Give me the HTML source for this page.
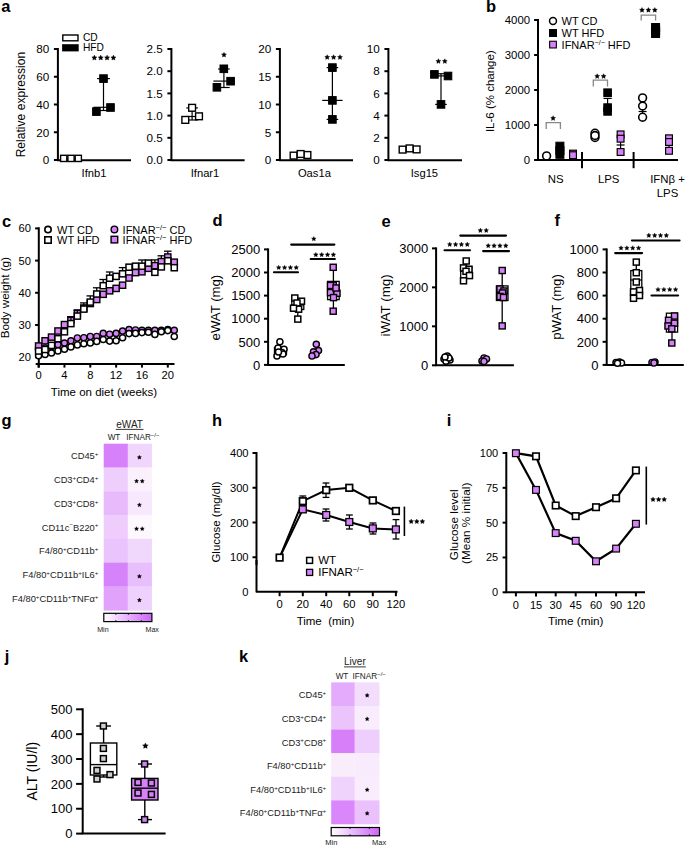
<!DOCTYPE html>
<html><head><meta charset="utf-8"><style>
html,body{margin:0;padding:0;background:#fff;width:685px;height:845px;overflow:hidden}
svg{display:block;font-family:"Liberation Sans", sans-serif}
</style></head><body>
<svg width="685" height="845" viewBox="0 0 685 845">
<rect width="685" height="845" fill="#fff"/>
<text x="1.3" y="11.8" font-size="16.5" text-anchor="start" font-weight="bold" fill="#000" >a</text>
<text x="486.0" y="11.6" font-size="16.5" text-anchor="start" font-weight="bold" fill="#000" >b</text>
<text x="1.9" y="226.6" font-size="16.5" text-anchor="start" font-weight="bold" fill="#000" >c</text>
<text x="212.6" y="226.4" font-size="16.5" text-anchor="start" font-weight="bold" fill="#000" >d</text>
<text x="381.5" y="226.5" font-size="16.5" text-anchor="start" font-weight="bold" fill="#000" >e</text>
<text x="554.5" y="225.8" font-size="16.5" text-anchor="start" font-weight="bold" fill="#000" >f</text>
<text x="1.5" y="425.9" font-size="16.5" text-anchor="start" font-weight="bold" fill="#000" >g</text>
<text x="212.0" y="426.0" font-size="16.5" text-anchor="start" font-weight="bold" fill="#000" >h</text>
<text x="446.8" y="426.0" font-size="16.5" text-anchor="start" font-weight="bold" fill="#000" >i</text>
<text x="4.8" y="661.5" font-size="16.5" text-anchor="start" font-weight="bold" fill="#000" >j</text>
<text x="238.9" y="662.0" font-size="16.5" text-anchor="start" font-weight="bold" fill="#000" >k</text>
<rect x="62.8" y="35" width="15.2" height="5.8" fill="#fff" stroke="#000" stroke-width="1.4"/>
<rect x="62.1" y="44.2" width="16.6" height="7.2" fill="#000"/>
<text x="83.0" y="41.4" font-size="10.2" text-anchor="start" font-weight="normal" fill="#000" >CD</text>
<text x="83.0" y="51.1" font-size="10.2" text-anchor="start" font-weight="normal" fill="#000" >HFD</text>
<text x="0" y="0" font-size="12.1" text-anchor="middle" fill="#000" transform="translate(25.4,104.6) rotate(-90)">Relative expression</text>
<line x1="57.90" y1="48.00" x2="57.90" y2="160.20" stroke="#000" stroke-width="2" stroke-linecap="butt"/>
<line x1="53.90" y1="160.00" x2="57.90" y2="160.00" stroke="#000" stroke-width="2" stroke-linecap="butt"/>
<text x="49.3" y="164.2" font-size="11.7" text-anchor="end" font-weight="normal" fill="#000" >0</text>
<line x1="53.90" y1="132.25" x2="57.90" y2="132.25" stroke="#000" stroke-width="2" stroke-linecap="butt"/>
<text x="49.3" y="136.5" font-size="11.7" text-anchor="end" font-weight="normal" fill="#000" >20</text>
<line x1="53.90" y1="104.50" x2="57.90" y2="104.50" stroke="#000" stroke-width="2" stroke-linecap="butt"/>
<text x="49.3" y="108.7" font-size="11.7" text-anchor="end" font-weight="normal" fill="#000" >40</text>
<line x1="53.90" y1="76.75" x2="57.90" y2="76.75" stroke="#000" stroke-width="2" stroke-linecap="butt"/>
<text x="49.3" y="81.0" font-size="11.7" text-anchor="end" font-weight="normal" fill="#000" >60</text>
<line x1="53.90" y1="49.00" x2="57.90" y2="49.00" stroke="#000" stroke-width="2" stroke-linecap="butt"/>
<text x="49.3" y="53.2" font-size="11.7" text-anchor="end" font-weight="normal" fill="#000" >80</text>
<line x1="56.90" y1="160.20" x2="131.00" y2="160.20" stroke="#000" stroke-width="2" stroke-linecap="butt"/>
<text x="94.0" y="176.6" font-size="11.2" text-anchor="middle" font-weight="normal" fill="#000" >Ifnb1</text>
<line x1="171.40" y1="48.00" x2="171.40" y2="160.20" stroke="#000" stroke-width="2" stroke-linecap="butt"/>
<line x1="167.40" y1="160.00" x2="171.40" y2="160.00" stroke="#000" stroke-width="2" stroke-linecap="butt"/>
<text x="162.8" y="164.2" font-size="11.7" text-anchor="end" font-weight="normal" fill="#000" >0.0</text>
<line x1="167.40" y1="137.80" x2="171.40" y2="137.80" stroke="#000" stroke-width="2" stroke-linecap="butt"/>
<text x="162.8" y="142.0" font-size="11.7" text-anchor="end" font-weight="normal" fill="#000" >0.5</text>
<line x1="167.40" y1="115.60" x2="171.40" y2="115.60" stroke="#000" stroke-width="2" stroke-linecap="butt"/>
<text x="162.8" y="119.8" font-size="11.7" text-anchor="end" font-weight="normal" fill="#000" >1.0</text>
<line x1="167.40" y1="93.40" x2="171.40" y2="93.40" stroke="#000" stroke-width="2" stroke-linecap="butt"/>
<text x="162.8" y="97.6" font-size="11.7" text-anchor="end" font-weight="normal" fill="#000" >1.5</text>
<line x1="167.40" y1="71.20" x2="171.40" y2="71.20" stroke="#000" stroke-width="2" stroke-linecap="butt"/>
<text x="162.8" y="75.4" font-size="11.7" text-anchor="end" font-weight="normal" fill="#000" >2.0</text>
<line x1="167.40" y1="49.00" x2="171.40" y2="49.00" stroke="#000" stroke-width="2" stroke-linecap="butt"/>
<text x="162.8" y="53.2" font-size="11.7" text-anchor="end" font-weight="normal" fill="#000" >2.5</text>
<line x1="170.40" y1="160.20" x2="244.60" y2="160.20" stroke="#000" stroke-width="2" stroke-linecap="butt"/>
<text x="205.0" y="176.6" font-size="11.2" text-anchor="middle" font-weight="normal" fill="#000" >Ifnar1</text>
<line x1="279.90" y1="48.00" x2="279.90" y2="160.20" stroke="#000" stroke-width="2" stroke-linecap="butt"/>
<line x1="275.90" y1="160.00" x2="279.90" y2="160.00" stroke="#000" stroke-width="2" stroke-linecap="butt"/>
<text x="271.3" y="164.2" font-size="11.7" text-anchor="end" font-weight="normal" fill="#000" >0</text>
<line x1="275.90" y1="132.25" x2="279.90" y2="132.25" stroke="#000" stroke-width="2" stroke-linecap="butt"/>
<text x="271.3" y="136.5" font-size="11.7" text-anchor="end" font-weight="normal" fill="#000" >5</text>
<line x1="275.90" y1="104.50" x2="279.90" y2="104.50" stroke="#000" stroke-width="2" stroke-linecap="butt"/>
<text x="271.3" y="108.7" font-size="11.7" text-anchor="end" font-weight="normal" fill="#000" >10</text>
<line x1="275.90" y1="76.75" x2="279.90" y2="76.75" stroke="#000" stroke-width="2" stroke-linecap="butt"/>
<text x="271.3" y="81.0" font-size="11.7" text-anchor="end" font-weight="normal" fill="#000" >15</text>
<line x1="275.90" y1="49.00" x2="279.90" y2="49.00" stroke="#000" stroke-width="2" stroke-linecap="butt"/>
<text x="271.3" y="53.2" font-size="11.7" text-anchor="end" font-weight="normal" fill="#000" >20</text>
<line x1="278.90" y1="160.20" x2="353.00" y2="160.20" stroke="#000" stroke-width="2" stroke-linecap="butt"/>
<text x="314.4" y="176.6" font-size="11.2" text-anchor="middle" font-weight="normal" fill="#000" >Oas1a</text>
<line x1="388.40" y1="48.00" x2="388.40" y2="160.20" stroke="#000" stroke-width="2" stroke-linecap="butt"/>
<line x1="384.40" y1="160.00" x2="388.40" y2="160.00" stroke="#000" stroke-width="2" stroke-linecap="butt"/>
<text x="379.8" y="164.2" font-size="11.7" text-anchor="end" font-weight="normal" fill="#000" >0</text>
<line x1="384.40" y1="137.80" x2="388.40" y2="137.80" stroke="#000" stroke-width="2" stroke-linecap="butt"/>
<text x="379.8" y="142.0" font-size="11.7" text-anchor="end" font-weight="normal" fill="#000" >2</text>
<line x1="384.40" y1="115.60" x2="388.40" y2="115.60" stroke="#000" stroke-width="2" stroke-linecap="butt"/>
<text x="379.8" y="119.8" font-size="11.7" text-anchor="end" font-weight="normal" fill="#000" >4</text>
<line x1="384.40" y1="93.40" x2="388.40" y2="93.40" stroke="#000" stroke-width="2" stroke-linecap="butt"/>
<text x="379.8" y="97.6" font-size="11.7" text-anchor="end" font-weight="normal" fill="#000" >6</text>
<line x1="384.40" y1="71.20" x2="388.40" y2="71.20" stroke="#000" stroke-width="2" stroke-linecap="butt"/>
<text x="379.8" y="75.4" font-size="11.7" text-anchor="end" font-weight="normal" fill="#000" >8</text>
<line x1="384.40" y1="49.00" x2="388.40" y2="49.00" stroke="#000" stroke-width="2" stroke-linecap="butt"/>
<text x="379.8" y="53.2" font-size="11.7" text-anchor="end" font-weight="normal" fill="#000" >10</text>
<line x1="387.40" y1="160.20" x2="462.00" y2="160.20" stroke="#000" stroke-width="2" stroke-linecap="butt"/>
<text x="424.4" y="176.6" font-size="11.2" text-anchor="middle" font-weight="normal" fill="#000" >Isg15</text>
<line x1="103.50" y1="78.60" x2="103.50" y2="110.50" stroke="#000" stroke-width="1.2" stroke-linecap="butt"/>
<line x1="97.10" y1="78.60" x2="109.90" y2="78.60" stroke="#000" stroke-width="1.2" stroke-linecap="butt"/>
<line x1="97.10" y1="110.50" x2="109.90" y2="110.50" stroke="#000" stroke-width="1.2" stroke-linecap="butt"/>
<line x1="93.50" y1="107.30" x2="113.50" y2="107.30" stroke="#000" stroke-width="1.2" stroke-linecap="butt"/>
<rect x="99.70" y="74.80" width="7.60" height="7.60" fill="#000" stroke="#000" stroke-width="1.0"/>
<rect x="92.60" y="107.80" width="7.60" height="7.60" fill="#000" stroke="#000" stroke-width="1.0"/>
<rect x="106.70" y="103.70" width="7.60" height="7.60" fill="#000" stroke="#000" stroke-width="1.0"/>
<line x1="60.50" y1="158.50" x2="81.00" y2="158.50" stroke="#000" stroke-width="1.2" stroke-linecap="butt"/>
<rect x="60.60" y="155.30" width="6.20" height="6.20" fill="#fff" stroke="#000" stroke-width="1.4"/>
<rect x="67.90" y="155.30" width="6.20" height="6.20" fill="#fff" stroke="#000" stroke-width="1.4"/>
<rect x="75.20" y="155.30" width="6.20" height="6.20" fill="#fff" stroke="#000" stroke-width="1.4"/>
<polygon points="94.38,55.10 95.17,56.71 96.94,56.97 95.66,58.22 95.96,59.98 94.38,59.15 92.79,59.98 93.09,58.22 91.81,56.97 93.58,56.71" fill="#000" stroke="#000" stroke-width="0.35" stroke-linejoin="round"/>
<polygon points="100.72,55.10 101.52,56.71 103.29,56.97 102.01,58.22 102.31,59.98 100.72,59.15 99.14,59.98 99.44,58.22 98.16,56.97 99.93,56.71" fill="#000" stroke="#000" stroke-width="0.35" stroke-linejoin="round"/>
<polygon points="107.08,55.10 107.87,56.71 109.64,56.97 108.36,58.22 108.66,59.98 107.08,59.15 105.49,59.98 105.79,58.22 104.51,56.97 106.28,56.71" fill="#000" stroke="#000" stroke-width="0.35" stroke-linejoin="round"/>
<polygon points="113.42,55.10 114.22,56.71 115.99,56.97 114.71,58.22 115.01,59.98 113.42,59.15 111.84,59.98 112.14,58.22 110.86,56.97 112.63,56.71" fill="#000" stroke="#000" stroke-width="0.35" stroke-linejoin="round"/>
<line x1="223.90" y1="69.00" x2="223.90" y2="87.50" stroke="#000" stroke-width="1.2" stroke-linecap="butt"/>
<line x1="218.10" y1="69.00" x2="229.70" y2="69.00" stroke="#000" stroke-width="1.2" stroke-linecap="butt"/>
<line x1="218.10" y1="87.50" x2="229.70" y2="87.50" stroke="#000" stroke-width="1.2" stroke-linecap="butt"/>
<line x1="213.40" y1="81.10" x2="234.40" y2="81.10" stroke="#000" stroke-width="1.2" stroke-linecap="butt"/>
<rect x="220.00" y="65.00" width="7.60" height="7.60" fill="#000" stroke="#000" stroke-width="1.0"/>
<rect x="226.80" y="77.40" width="7.60" height="7.60" fill="#000" stroke="#000" stroke-width="1.0"/>
<rect x="213.10" y="83.50" width="7.60" height="7.60" fill="#000" stroke="#000" stroke-width="1.0"/>
<line x1="192.10" y1="107.90" x2="192.10" y2="120.00" stroke="#000" stroke-width="1.2" stroke-linecap="butt"/>
<line x1="186.30" y1="107.90" x2="197.90" y2="107.90" stroke="#000" stroke-width="1.2" stroke-linecap="butt"/>
<line x1="186.30" y1="120.00" x2="197.90" y2="120.00" stroke="#000" stroke-width="1.2" stroke-linecap="butt"/>
<line x1="186.10" y1="116.50" x2="198.10" y2="116.50" stroke="#000" stroke-width="1.2" stroke-linecap="butt"/>
<rect x="188.70" y="104.40" width="6.80" height="6.80" fill="#fff" stroke="#000" stroke-width="1.4"/>
<rect x="195.60" y="112.90" width="6.80" height="6.80" fill="#fff" stroke="#000" stroke-width="1.4"/>
<rect x="181.90" y="116.50" width="6.80" height="6.80" fill="#fff" stroke="#000" stroke-width="1.4"/>
<polygon points="224.00,52.30 224.76,53.85 226.47,54.10 225.24,55.30 225.53,57.00 224.00,56.20 222.47,57.00 222.76,55.30 221.53,54.10 223.24,53.85" fill="#000" stroke="#000" stroke-width="0.35" stroke-linejoin="round"/>
<line x1="332.40" y1="67.60" x2="332.40" y2="119.40" stroke="#000" stroke-width="1.2" stroke-linecap="butt"/>
<line x1="326.60" y1="67.60" x2="338.20" y2="67.60" stroke="#000" stroke-width="1.2" stroke-linecap="butt"/>
<line x1="326.60" y1="119.40" x2="338.20" y2="119.40" stroke="#000" stroke-width="1.2" stroke-linecap="butt"/>
<line x1="322.20" y1="100.40" x2="342.60" y2="100.40" stroke="#000" stroke-width="1.2" stroke-linecap="butt"/>
<rect x="328.60" y="63.80" width="7.60" height="7.60" fill="#000" stroke="#000" stroke-width="1.0"/>
<rect x="328.60" y="96.60" width="7.60" height="7.60" fill="#000" stroke="#000" stroke-width="1.0"/>
<rect x="328.60" y="115.60" width="7.60" height="7.60" fill="#000" stroke="#000" stroke-width="1.0"/>
<line x1="300.60" y1="154.00" x2="300.60" y2="155.60" stroke="#000" stroke-width="1.2" stroke-linecap="butt"/>
<line x1="296.60" y1="154.00" x2="304.60" y2="154.00" stroke="#000" stroke-width="1.2" stroke-linecap="butt"/>
<line x1="296.60" y1="155.60" x2="304.60" y2="155.60" stroke="#000" stroke-width="1.2" stroke-linecap="butt"/>
<line x1="294.60" y1="155.00" x2="306.60" y2="155.00" stroke="#000" stroke-width="1.2" stroke-linecap="butt"/>
<rect x="290.20" y="152.20" width="6.80" height="6.80" fill="#fff" stroke="#000" stroke-width="1.4"/>
<rect x="304.00" y="151.60" width="6.80" height="6.80" fill="#fff" stroke="#000" stroke-width="1.4"/>
<rect x="297.20" y="150.60" width="6.80" height="6.80" fill="#fff" stroke="#000" stroke-width="1.4"/>
<polygon points="327.20,54.70 327.96,56.25 329.67,56.50 328.44,57.70 328.73,59.40 327.20,58.60 325.67,59.40 325.96,57.70 324.73,56.50 326.44,56.25" fill="#000" stroke="#000" stroke-width="0.35" stroke-linejoin="round"/>
<polygon points="333.60,54.70 334.36,56.25 336.07,56.50 334.84,57.70 335.13,59.40 333.60,58.60 332.07,59.40 332.36,57.70 331.13,56.50 332.84,56.25" fill="#000" stroke="#000" stroke-width="0.35" stroke-linejoin="round"/>
<polygon points="340.00,54.70 340.76,56.25 342.47,56.50 341.24,57.70 341.53,59.40 340.00,58.60 338.47,59.40 338.76,57.70 337.53,56.50 339.24,56.25" fill="#000" stroke="#000" stroke-width="0.35" stroke-linejoin="round"/>
<line x1="441.00" y1="73.70" x2="441.00" y2="104.40" stroke="#000" stroke-width="1.2" stroke-linecap="butt"/>
<line x1="435.20" y1="73.70" x2="446.80" y2="73.70" stroke="#000" stroke-width="1.2" stroke-linecap="butt"/>
<line x1="435.20" y1="104.40" x2="446.80" y2="104.40" stroke="#000" stroke-width="1.2" stroke-linecap="butt"/>
<line x1="434.00" y1="75.90" x2="448.00" y2="75.90" stroke="#000" stroke-width="1.2" stroke-linecap="butt"/>
<rect x="430.60" y="70.60" width="7.60" height="7.60" fill="#000" stroke="#000" stroke-width="1.0"/>
<rect x="444.20" y="72.20" width="7.60" height="7.60" fill="#000" stroke="#000" stroke-width="1.0"/>
<rect x="437.20" y="100.60" width="7.60" height="7.60" fill="#000" stroke="#000" stroke-width="1.0"/>
<rect x="399.20" y="146.20" width="6.80" height="6.80" fill="#fff" stroke="#000" stroke-width="1.4"/>
<rect x="413.20" y="146.00" width="6.80" height="6.80" fill="#fff" stroke="#000" stroke-width="1.4"/>
<rect x="406.20" y="145.00" width="6.80" height="6.80" fill="#fff" stroke="#000" stroke-width="1.4"/>
<polygon points="438.40,58.70 439.16,60.25 440.87,60.50 439.64,61.70 439.93,63.40 438.40,62.60 436.87,63.40 437.16,61.70 435.93,60.50 437.64,60.25" fill="#000" stroke="#000" stroke-width="0.35" stroke-linejoin="round"/>
<polygon points="444.80,58.70 445.56,60.25 447.27,60.50 446.04,61.70 446.33,63.40 444.80,62.60 443.27,63.40 443.56,61.70 442.33,60.50 444.04,60.25" fill="#000" stroke="#000" stroke-width="0.35" stroke-linejoin="round"/>
<text x="0" y="0" font-size="11.5" text-anchor="middle" fill="#000" transform="translate(494.2,91.2) rotate(-90)">IL-6 (% change)</text>
<line x1="538.00" y1="19.00" x2="538.00" y2="160.00" stroke="#000" stroke-width="2" stroke-linecap="butt"/>
<line x1="534.10" y1="160.00" x2="538.00" y2="160.00" stroke="#000" stroke-width="2" stroke-linecap="butt"/>
<text x="530.1" y="164.1" font-size="11.4" text-anchor="end" font-weight="normal" fill="#000" >0</text>
<line x1="534.10" y1="125.00" x2="538.00" y2="125.00" stroke="#000" stroke-width="2" stroke-linecap="butt"/>
<text x="530.1" y="129.1" font-size="11.4" text-anchor="end" font-weight="normal" fill="#000" >1000</text>
<line x1="534.10" y1="90.00" x2="538.00" y2="90.00" stroke="#000" stroke-width="2" stroke-linecap="butt"/>
<text x="530.1" y="94.1" font-size="11.4" text-anchor="end" font-weight="normal" fill="#000" >2000</text>
<line x1="534.10" y1="55.00" x2="538.00" y2="55.00" stroke="#000" stroke-width="2" stroke-linecap="butt"/>
<text x="530.1" y="59.1" font-size="11.4" text-anchor="end" font-weight="normal" fill="#000" >3000</text>
<line x1="534.10" y1="20.00" x2="538.00" y2="20.00" stroke="#000" stroke-width="2" stroke-linecap="butt"/>
<text x="530.1" y="24.1" font-size="11.4" text-anchor="end" font-weight="normal" fill="#000" >4000</text>
<line x1="537.00" y1="160.00" x2="678.00" y2="160.00" stroke="#000" stroke-width="2" stroke-linecap="butt"/>
<line x1="582.00" y1="152.00" x2="582.00" y2="168.20" stroke="#000" stroke-width="2" stroke-linecap="butt"/>
<line x1="633.60" y1="152.00" x2="633.60" y2="168.20" stroke="#000" stroke-width="2" stroke-linecap="butt"/>
<text x="555.7" y="183.2" font-size="11.4" text-anchor="middle" font-weight="normal" fill="#000" >NS</text>
<text x="608.7" y="183.2" font-size="11.4" text-anchor="middle" font-weight="normal" fill="#000" >LPS</text>
<text x="667.5" y="183.2" font-size="11.4" text-anchor="middle" font-weight="normal" fill="#000" >IFNβ +</text>
<text x="667.5" y="197.4" font-size="11.4" text-anchor="middle" font-weight="normal" fill="#000" >LPS</text>
<circle cx="553.00" cy="21.00" r="3.45" fill="#fff" stroke="#000" stroke-width="1.5"/>
<text x="561.6" y="24.8" font-size="11" text-anchor="start" font-weight="normal" fill="#000" >WT CD</text>
<rect x="549.50" y="29.50" width="7.00" height="7.00" fill="#000" stroke="#000" stroke-width="1"/>
<text x="561.6" y="37.0" font-size="11" text-anchor="start" font-weight="normal" fill="#000" >WT HFD</text>
<rect x="549.65" y="41.25" width="6.70" height="6.70" fill="#d882f9" stroke="#000" stroke-width="1.1"/>
<text x="561.6" y="49.2" font-size="11" text-anchor="start" font-weight="normal" fill="#000" >IFNAR<tspan dy="-4" font-size="7">−/−</tspan><tspan dy="4"> HFD</tspan></text>
<polyline points="546.20,129.00 546.20,122.60 560.40,122.60 560.40,129.00" stroke="#888" stroke-width="1.3" fill="none" stroke-linejoin="miter"/>
<polygon points="553.10,115.70 553.86,117.25 555.57,117.50 554.34,118.70 554.63,120.40 553.10,119.60 551.57,120.40 551.86,118.70 550.63,117.50 552.34,117.25" fill="#000" stroke="#000" stroke-width="0.35" stroke-linejoin="round"/>
<polyline points="593.30,86.50 593.30,80.20 607.50,80.20 607.50,86.50" stroke="#888" stroke-width="1.3" fill="none" stroke-linejoin="miter"/>
<polygon points="597.20,73.70 597.96,75.25 599.67,75.50 598.44,76.70 598.73,78.40 597.20,77.60 595.67,78.40 595.96,76.70 594.73,75.50 596.44,75.25" fill="#000" stroke="#000" stroke-width="0.35" stroke-linejoin="round"/>
<polygon points="603.60,73.70 604.36,75.25 606.07,75.50 604.84,76.70 605.13,78.40 603.60,77.60 602.07,78.40 602.36,76.70 601.13,75.50 602.84,75.25" fill="#000" stroke="#000" stroke-width="0.35" stroke-linejoin="round"/>
<polyline points="641.20,20.50 641.20,15.20 655.60,15.20 655.60,20.50" stroke="#888" stroke-width="1.3" fill="none" stroke-linejoin="miter"/>
<polygon points="642.00,7.50 642.76,9.05 644.47,9.30 643.24,10.50 643.53,12.20 642.00,11.40 640.47,12.20 640.76,10.50 639.53,9.30 641.24,9.05" fill="#000" stroke="#000" stroke-width="0.35" stroke-linejoin="round"/>
<polygon points="648.40,7.50 649.16,9.05 650.87,9.30 649.64,10.50 649.93,12.20 648.40,11.40 646.87,12.20 647.16,10.50 645.93,9.30 647.64,9.05" fill="#000" stroke="#000" stroke-width="0.35" stroke-linejoin="round"/>
<polygon points="654.80,7.50 655.56,9.05 657.27,9.30 656.04,10.50 656.33,12.20 654.80,11.40 653.27,12.20 653.56,10.50 652.33,9.30 654.04,9.05" fill="#000" stroke="#000" stroke-width="0.35" stroke-linejoin="round"/>
<circle cx="546.60" cy="155.90" r="3.90" fill="#fff" stroke="#000" stroke-width="1.6"/>
<rect x="555.90" y="142.20" width="8.00" height="8.00" fill="#000" stroke="#000" stroke-width="1"/>
<rect x="555.90" y="146.50" width="8.00" height="8.00" fill="#000" stroke="#000" stroke-width="1"/>
<rect x="555.90" y="150.30" width="8.00" height="8.00" fill="#000" stroke="#000" stroke-width="1"/>
<rect x="569.60" y="150.20" width="6.80" height="6.80" fill="#d882f9" stroke="#000" stroke-width="1.2"/>
<rect x="569.60" y="151.80" width="6.80" height="6.80" fill="#d882f9" stroke="#000" stroke-width="1.2"/>
<line x1="607.60" y1="98.40" x2="607.60" y2="108.00" stroke="#000" stroke-width="1.2" stroke-linecap="butt"/>
<line x1="603.50" y1="98.40" x2="611.70" y2="98.40" stroke="#000" stroke-width="1.2" stroke-linecap="butt"/>
<rect x="603.80" y="88.90" width="7.60" height="7.60" fill="#000" stroke="#000" stroke-width="1"/>
<rect x="603.80" y="103.80" width="7.60" height="7.60" fill="#000" stroke="#000" stroke-width="1"/>
<rect x="603.80" y="107.60" width="7.60" height="7.60" fill="#000" stroke="#000" stroke-width="1"/>
<circle cx="595.00" cy="137.50" r="3.90" fill="#fff" stroke="#000" stroke-width="1.6"/>
<circle cx="595.00" cy="133.20" r="3.90" fill="#fff" stroke="#000" stroke-width="1.6"/>
<circle cx="595.00" cy="135.50" r="3.90" fill="#fff" stroke="#000" stroke-width="1.6"/>
<line x1="620.60" y1="138.00" x2="620.60" y2="152.00" stroke="#000" stroke-width="1.2" stroke-linecap="butt"/>
<line x1="616.60" y1="145.00" x2="624.60" y2="145.00" stroke="#000" stroke-width="1.2" stroke-linecap="butt"/>
<rect x="617.20" y="131.00" width="6.80" height="6.80" fill="#d882f9" stroke="#000" stroke-width="1.2"/>
<rect x="617.20" y="135.30" width="6.80" height="6.80" fill="#d882f9" stroke="#000" stroke-width="1.2"/>
<rect x="617.20" y="148.60" width="6.80" height="6.80" fill="#d882f9" stroke="#000" stroke-width="1.2"/>
<line x1="642.60" y1="106.00" x2="642.60" y2="117.00" stroke="#000" stroke-width="1.2" stroke-linecap="butt"/>
<line x1="638.60" y1="111.50" x2="646.60" y2="111.50" stroke="#000" stroke-width="1.2" stroke-linecap="butt"/>
<circle cx="642.60" cy="97.90" r="3.90" fill="#fff" stroke="#000" stroke-width="1.6"/>
<circle cx="642.60" cy="106.00" r="3.90" fill="#fff" stroke="#000" stroke-width="1.6"/>
<circle cx="642.60" cy="117.20" r="3.90" fill="#fff" stroke="#000" stroke-width="1.6"/>
<rect x="651.60" y="23.50" width="8.00" height="8.00" fill="#000" stroke="#000" stroke-width="1"/>
<rect x="651.60" y="26.50" width="8.00" height="8.00" fill="#000" stroke="#000" stroke-width="1"/>
<rect x="651.60" y="29.50" width="8.00" height="8.00" fill="#000" stroke="#000" stroke-width="1"/>
<line x1="669.00" y1="140.00" x2="669.00" y2="151.00" stroke="#000" stroke-width="1.2" stroke-linecap="butt"/>
<rect x="665.60" y="134.90" width="6.80" height="6.80" fill="#d882f9" stroke="#000" stroke-width="1.2"/>
<rect x="665.60" y="138.60" width="6.80" height="6.80" fill="#d882f9" stroke="#000" stroke-width="1.2"/>
<rect x="665.60" y="147.40" width="6.80" height="6.80" fill="#d882f9" stroke="#000" stroke-width="1.2"/>
<line x1="38.80" y1="227.30" x2="38.80" y2="367.60" stroke="#000" stroke-width="2" stroke-linecap="butt"/>
<line x1="35.10" y1="357.20" x2="38.80" y2="357.20" stroke="#000" stroke-width="2" stroke-linecap="butt"/>
<text x="31.0" y="361.2" font-size="11.2" text-anchor="end" font-weight="normal" fill="#000" >20</text>
<line x1="35.10" y1="325.00" x2="38.80" y2="325.00" stroke="#000" stroke-width="2" stroke-linecap="butt"/>
<text x="31.0" y="329.0" font-size="11.2" text-anchor="end" font-weight="normal" fill="#000" >30</text>
<line x1="35.10" y1="292.80" x2="38.80" y2="292.80" stroke="#000" stroke-width="2" stroke-linecap="butt"/>
<text x="31.0" y="296.8" font-size="11.2" text-anchor="end" font-weight="normal" fill="#000" >40</text>
<line x1="35.10" y1="260.60" x2="38.80" y2="260.60" stroke="#000" stroke-width="2" stroke-linecap="butt"/>
<text x="31.0" y="264.6" font-size="11.2" text-anchor="end" font-weight="normal" fill="#000" >50</text>
<line x1="35.10" y1="228.40" x2="38.80" y2="228.40" stroke="#000" stroke-width="2" stroke-linecap="butt"/>
<text x="31.0" y="232.4" font-size="11.2" text-anchor="end" font-weight="normal" fill="#000" >60</text>
<line x1="35.70" y1="363.90" x2="174.50" y2="363.90" stroke="#000" stroke-width="2" stroke-linecap="butt"/>
<line x1="38.60" y1="363.90" x2="38.60" y2="367.60" stroke="#000" stroke-width="2" stroke-linecap="butt"/>
<text x="38.6" y="379.4" font-size="11.2" text-anchor="middle" font-weight="normal" fill="#000" >0</text>
<line x1="64.44" y1="363.90" x2="64.44" y2="367.60" stroke="#000" stroke-width="2" stroke-linecap="butt"/>
<text x="64.4" y="379.4" font-size="11.2" text-anchor="middle" font-weight="normal" fill="#000" >4</text>
<line x1="90.28" y1="363.90" x2="90.28" y2="367.60" stroke="#000" stroke-width="2" stroke-linecap="butt"/>
<text x="90.3" y="379.4" font-size="11.2" text-anchor="middle" font-weight="normal" fill="#000" >8</text>
<line x1="116.12" y1="363.90" x2="116.12" y2="367.60" stroke="#000" stroke-width="2" stroke-linecap="butt"/>
<text x="116.1" y="379.4" font-size="11.2" text-anchor="middle" font-weight="normal" fill="#000" >12</text>
<line x1="141.96" y1="363.90" x2="141.96" y2="367.60" stroke="#000" stroke-width="2" stroke-linecap="butt"/>
<text x="142.0" y="379.4" font-size="11.2" text-anchor="middle" font-weight="normal" fill="#000" >16</text>
<line x1="167.80" y1="363.90" x2="167.80" y2="367.60" stroke="#000" stroke-width="2" stroke-linecap="butt"/>
<text x="167.8" y="379.4" font-size="11.2" text-anchor="middle" font-weight="normal" fill="#000" >20</text>
<text x="104.0" y="396.0" font-size="11.5" text-anchor="middle" font-weight="normal" fill="#000" >Time on diet (weeks)</text>
<text x="0" y="0" font-size="11.7" text-anchor="middle" fill="#000" transform="translate(8.7,297.6) rotate(-90)">Body weight (g)</text>
<circle cx="48.00" cy="229.60" r="3.20" fill="#fff" stroke="#000" stroke-width="1.6"/>
<text x="57.0" y="233.6" font-size="11" text-anchor="start" font-weight="normal" fill="#000" >WT CD</text>
<rect x="44.80" y="236.80" width="6.40" height="6.40" fill="#fff" stroke="#000" stroke-width="1.6"/>
<text x="57.0" y="244.0" font-size="11" text-anchor="start" font-weight="normal" fill="#000" >WT HFD</text>
<circle cx="114.40" cy="229.40" r="3.30" fill="#d882f9" stroke="#000" stroke-width="1.4"/>
<text x="122.6" y="233.6" font-size="11" text-anchor="start" font-weight="normal" fill="#000" >IFNAR<tspan dy="-4" font-size="7.5">−/−</tspan><tspan dy="4"> CD</tspan></text>
<rect x="111.10" y="236.30" width="6.60" height="6.60" fill="#d882f9" stroke="#000" stroke-width="1.4"/>
<text x="122.6" y="244.0" font-size="11" text-anchor="start" font-weight="normal" fill="#000" >IFNAR<tspan dy="-4" font-size="7.5">−/−</tspan><tspan dy="4"> HFD</tspan></text>
<circle cx="38.60" cy="349.80" r="3.10" fill="#d882f9" stroke="#000" stroke-width="1.4"/>
<circle cx="45.06" cy="348.00" r="3.10" fill="#d882f9" stroke="#000" stroke-width="1.4"/>
<circle cx="51.52" cy="346.50" r="3.10" fill="#d882f9" stroke="#000" stroke-width="1.4"/>
<circle cx="57.98" cy="344.70" r="3.10" fill="#d882f9" stroke="#000" stroke-width="1.4"/>
<circle cx="64.44" cy="343.10" r="3.10" fill="#d882f9" stroke="#000" stroke-width="1.4"/>
<circle cx="70.90" cy="340.80" r="3.10" fill="#d882f9" stroke="#000" stroke-width="1.4"/>
<circle cx="77.36" cy="338.00" r="3.10" fill="#d882f9" stroke="#000" stroke-width="1.4"/>
<circle cx="83.82" cy="337.70" r="3.10" fill="#d882f9" stroke="#000" stroke-width="1.4"/>
<circle cx="90.28" cy="336.50" r="3.10" fill="#d882f9" stroke="#000" stroke-width="1.4"/>
<circle cx="96.74" cy="336.50" r="3.10" fill="#d882f9" stroke="#000" stroke-width="1.4"/>
<circle cx="103.20" cy="333.40" r="3.10" fill="#d882f9" stroke="#000" stroke-width="1.4"/>
<circle cx="109.66" cy="334.20" r="3.10" fill="#d882f9" stroke="#000" stroke-width="1.4"/>
<circle cx="116.12" cy="333.40" r="3.10" fill="#d882f9" stroke="#000" stroke-width="1.4"/>
<circle cx="122.58" cy="331.10" r="3.10" fill="#d882f9" stroke="#000" stroke-width="1.4"/>
<circle cx="129.04" cy="329.60" r="3.10" fill="#d882f9" stroke="#000" stroke-width="1.4"/>
<circle cx="135.50" cy="330.00" r="3.10" fill="#d882f9" stroke="#000" stroke-width="1.4"/>
<circle cx="141.96" cy="330.30" r="3.10" fill="#d882f9" stroke="#000" stroke-width="1.4"/>
<circle cx="148.42" cy="330.30" r="3.10" fill="#d882f9" stroke="#000" stroke-width="1.4"/>
<circle cx="154.88" cy="330.30" r="3.10" fill="#d882f9" stroke="#000" stroke-width="1.4"/>
<circle cx="161.34" cy="330.30" r="3.10" fill="#d882f9" stroke="#000" stroke-width="1.4"/>
<circle cx="167.80" cy="329.60" r="3.10" fill="#d882f9" stroke="#000" stroke-width="1.4"/>
<circle cx="174.26" cy="330.30" r="3.10" fill="#d882f9" stroke="#000" stroke-width="1.4"/>
<rect x="35.50" y="342.90" width="6.20" height="6.20" fill="#d882f9" stroke="#000" stroke-width="1.4"/>
<rect x="41.96" y="337.70" width="6.20" height="6.20" fill="#d882f9" stroke="#000" stroke-width="1.4"/>
<rect x="48.42" y="334.00" width="6.20" height="6.20" fill="#d882f9" stroke="#000" stroke-width="1.4"/>
<rect x="54.88" y="327.90" width="6.20" height="6.20" fill="#d882f9" stroke="#000" stroke-width="1.4"/>
<rect x="61.34" y="321.50" width="6.20" height="6.20" fill="#d882f9" stroke="#000" stroke-width="1.4"/>
<rect x="67.80" y="316.70" width="6.20" height="6.20" fill="#d882f9" stroke="#000" stroke-width="1.4"/>
<rect x="74.26" y="310.40" width="6.20" height="6.20" fill="#d882f9" stroke="#000" stroke-width="1.4"/>
<rect x="80.72" y="304.90" width="6.20" height="6.20" fill="#d882f9" stroke="#000" stroke-width="1.4"/>
<rect x="87.18" y="300.40" width="6.20" height="6.20" fill="#d882f9" stroke="#000" stroke-width="1.4"/>
<rect x="93.64" y="296.40" width="6.20" height="6.20" fill="#d882f9" stroke="#000" stroke-width="1.4"/>
<rect x="100.10" y="291.20" width="6.20" height="6.20" fill="#d882f9" stroke="#000" stroke-width="1.4"/>
<rect x="106.56" y="287.70" width="6.20" height="6.20" fill="#d882f9" stroke="#000" stroke-width="1.4"/>
<rect x="113.02" y="285.30" width="6.20" height="6.20" fill="#d882f9" stroke="#000" stroke-width="1.4"/>
<rect x="119.48" y="282.10" width="6.20" height="6.20" fill="#d882f9" stroke="#000" stroke-width="1.4"/>
<rect x="125.94" y="274.90" width="6.20" height="6.20" fill="#d882f9" stroke="#000" stroke-width="1.4"/>
<rect x="132.40" y="269.50" width="6.20" height="6.20" fill="#d882f9" stroke="#000" stroke-width="1.4"/>
<line x1="138.16" y1="266.00" x2="145.76" y2="266.00" stroke="#000" stroke-width="1.3" stroke-linecap="butt"/>
<line x1="141.96" y1="266.00" x2="141.96" y2="271.80" stroke="#000" stroke-width="1.3" stroke-linecap="butt"/>
<rect x="138.86" y="268.70" width="6.20" height="6.20" fill="#d882f9" stroke="#000" stroke-width="1.4"/>
<line x1="144.62" y1="262.50" x2="152.22" y2="262.50" stroke="#000" stroke-width="1.3" stroke-linecap="butt"/>
<line x1="148.42" y1="262.50" x2="148.42" y2="268.30" stroke="#000" stroke-width="1.3" stroke-linecap="butt"/>
<rect x="145.32" y="265.20" width="6.20" height="6.20" fill="#d882f9" stroke="#000" stroke-width="1.4"/>
<line x1="151.08" y1="259.90" x2="158.68" y2="259.90" stroke="#000" stroke-width="1.3" stroke-linecap="butt"/>
<line x1="154.88" y1="259.90" x2="154.88" y2="265.70" stroke="#000" stroke-width="1.3" stroke-linecap="butt"/>
<rect x="151.78" y="262.60" width="6.20" height="6.20" fill="#d882f9" stroke="#000" stroke-width="1.4"/>
<line x1="157.54" y1="255.80" x2="165.14" y2="255.80" stroke="#000" stroke-width="1.3" stroke-linecap="butt"/>
<line x1="161.34" y1="255.80" x2="161.34" y2="261.60" stroke="#000" stroke-width="1.3" stroke-linecap="butt"/>
<rect x="158.24" y="258.50" width="6.20" height="6.20" fill="#d882f9" stroke="#000" stroke-width="1.4"/>
<line x1="164.00" y1="251.20" x2="171.60" y2="251.20" stroke="#000" stroke-width="1.3" stroke-linecap="butt"/>
<line x1="167.80" y1="251.20" x2="167.80" y2="257.00" stroke="#000" stroke-width="1.3" stroke-linecap="butt"/>
<rect x="164.70" y="253.90" width="6.20" height="6.20" fill="#d882f9" stroke="#000" stroke-width="1.4"/>
<rect x="171.16" y="259.10" width="6.20" height="6.20" fill="#d882f9" stroke="#000" stroke-width="1.4"/>
<circle cx="38.60" cy="355.70" r="3.05" fill="#fff" stroke="#000" stroke-width="1.5"/>
<circle cx="45.06" cy="354.50" r="3.05" fill="#fff" stroke="#000" stroke-width="1.5"/>
<circle cx="51.52" cy="353.00" r="3.05" fill="#fff" stroke="#000" stroke-width="1.5"/>
<circle cx="57.98" cy="350.90" r="3.05" fill="#fff" stroke="#000" stroke-width="1.5"/>
<circle cx="64.44" cy="349.20" r="3.05" fill="#fff" stroke="#000" stroke-width="1.5"/>
<circle cx="70.90" cy="346.90" r="3.05" fill="#fff" stroke="#000" stroke-width="1.5"/>
<circle cx="77.36" cy="344.90" r="3.05" fill="#fff" stroke="#000" stroke-width="1.5"/>
<circle cx="83.82" cy="343.80" r="3.05" fill="#fff" stroke="#000" stroke-width="1.5"/>
<circle cx="90.28" cy="342.90" r="3.05" fill="#fff" stroke="#000" stroke-width="1.5"/>
<circle cx="96.74" cy="341.40" r="3.05" fill="#fff" stroke="#000" stroke-width="1.5"/>
<circle cx="103.20" cy="339.50" r="3.05" fill="#fff" stroke="#000" stroke-width="1.5"/>
<circle cx="109.66" cy="341.10" r="3.05" fill="#fff" stroke="#000" stroke-width="1.5"/>
<circle cx="116.12" cy="340.80" r="3.05" fill="#fff" stroke="#000" stroke-width="1.5"/>
<circle cx="122.58" cy="337.70" r="3.05" fill="#fff" stroke="#000" stroke-width="1.5"/>
<circle cx="129.04" cy="333.60" r="3.05" fill="#fff" stroke="#000" stroke-width="1.5"/>
<circle cx="135.50" cy="333.40" r="3.05" fill="#fff" stroke="#000" stroke-width="1.5"/>
<circle cx="141.96" cy="332.60" r="3.05" fill="#fff" stroke="#000" stroke-width="1.5"/>
<circle cx="148.42" cy="332.20" r="3.05" fill="#fff" stroke="#000" stroke-width="1.5"/>
<circle cx="154.88" cy="334.40" r="3.05" fill="#fff" stroke="#000" stroke-width="1.5"/>
<circle cx="161.34" cy="331.80" r="3.05" fill="#fff" stroke="#000" stroke-width="1.5"/>
<circle cx="167.80" cy="330.60" r="3.05" fill="#fff" stroke="#000" stroke-width="1.5"/>
<circle cx="174.26" cy="336.50" r="3.05" fill="#fff" stroke="#000" stroke-width="1.5"/>
<rect x="35.55" y="347.95" width="6.10" height="6.10" fill="#fff" stroke="#000" stroke-width="1.5"/>
<rect x="42.01" y="346.45" width="6.10" height="6.10" fill="#fff" stroke="#000" stroke-width="1.5"/>
<rect x="48.47" y="342.35" width="6.10" height="6.10" fill="#fff" stroke="#000" stroke-width="1.5"/>
<rect x="54.93" y="335.65" width="6.10" height="6.10" fill="#fff" stroke="#000" stroke-width="1.5"/>
<rect x="61.39" y="328.75" width="6.10" height="6.10" fill="#fff" stroke="#000" stroke-width="1.5"/>
<line x1="67.10" y1="317.40" x2="74.70" y2="317.40" stroke="#000" stroke-width="1.3" stroke-linecap="butt"/>
<line x1="70.90" y1="317.40" x2="70.90" y2="323.60" stroke="#000" stroke-width="1.3" stroke-linecap="butt"/>
<rect x="67.85" y="320.55" width="6.10" height="6.10" fill="#fff" stroke="#000" stroke-width="1.5"/>
<line x1="73.56" y1="309.90" x2="81.16" y2="309.90" stroke="#000" stroke-width="1.3" stroke-linecap="butt"/>
<line x1="77.36" y1="309.90" x2="77.36" y2="316.10" stroke="#000" stroke-width="1.3" stroke-linecap="butt"/>
<rect x="74.31" y="313.05" width="6.10" height="6.10" fill="#fff" stroke="#000" stroke-width="1.5"/>
<line x1="80.02" y1="302.90" x2="87.62" y2="302.90" stroke="#000" stroke-width="1.3" stroke-linecap="butt"/>
<line x1="83.82" y1="302.90" x2="83.82" y2="309.10" stroke="#000" stroke-width="1.3" stroke-linecap="butt"/>
<rect x="80.77" y="306.05" width="6.10" height="6.10" fill="#fff" stroke="#000" stroke-width="1.5"/>
<line x1="86.48" y1="295.90" x2="94.08" y2="295.90" stroke="#000" stroke-width="1.3" stroke-linecap="butt"/>
<line x1="90.28" y1="295.90" x2="90.28" y2="302.10" stroke="#000" stroke-width="1.3" stroke-linecap="butt"/>
<rect x="87.23" y="299.05" width="6.10" height="6.10" fill="#fff" stroke="#000" stroke-width="1.5"/>
<line x1="92.94" y1="287.80" x2="100.54" y2="287.80" stroke="#000" stroke-width="1.3" stroke-linecap="butt"/>
<line x1="96.74" y1="287.80" x2="96.74" y2="294.00" stroke="#000" stroke-width="1.3" stroke-linecap="butt"/>
<rect x="93.69" y="290.95" width="6.10" height="6.10" fill="#fff" stroke="#000" stroke-width="1.5"/>
<line x1="99.40" y1="279.50" x2="107.00" y2="279.50" stroke="#000" stroke-width="1.3" stroke-linecap="butt"/>
<line x1="103.20" y1="279.50" x2="103.20" y2="285.70" stroke="#000" stroke-width="1.3" stroke-linecap="butt"/>
<rect x="100.15" y="282.65" width="6.10" height="6.10" fill="#fff" stroke="#000" stroke-width="1.5"/>
<line x1="105.86" y1="272.00" x2="113.46" y2="272.00" stroke="#000" stroke-width="1.3" stroke-linecap="butt"/>
<line x1="109.66" y1="272.00" x2="109.66" y2="278.20" stroke="#000" stroke-width="1.3" stroke-linecap="butt"/>
<rect x="106.61" y="275.15" width="6.10" height="6.10" fill="#fff" stroke="#000" stroke-width="1.5"/>
<rect x="113.07" y="273.35" width="6.10" height="6.10" fill="#fff" stroke="#000" stroke-width="1.5"/>
<line x1="118.78" y1="267.60" x2="126.38" y2="267.60" stroke="#000" stroke-width="1.3" stroke-linecap="butt"/>
<line x1="122.58" y1="267.60" x2="122.58" y2="273.80" stroke="#000" stroke-width="1.3" stroke-linecap="butt"/>
<rect x="119.53" y="270.75" width="6.10" height="6.10" fill="#fff" stroke="#000" stroke-width="1.5"/>
<rect x="125.99" y="264.15" width="6.10" height="6.10" fill="#fff" stroke="#000" stroke-width="1.5"/>
<rect x="132.45" y="263.15" width="6.10" height="6.10" fill="#fff" stroke="#000" stroke-width="1.5"/>
<line x1="138.16" y1="260.00" x2="145.76" y2="260.00" stroke="#000" stroke-width="1.3" stroke-linecap="butt"/>
<line x1="141.96" y1="260.00" x2="141.96" y2="266.20" stroke="#000" stroke-width="1.3" stroke-linecap="butt"/>
<rect x="138.91" y="263.15" width="6.10" height="6.10" fill="#fff" stroke="#000" stroke-width="1.5"/>
<rect x="145.37" y="260.05" width="6.10" height="6.10" fill="#fff" stroke="#000" stroke-width="1.5"/>
<rect x="151.83" y="269.25" width="6.10" height="6.10" fill="#fff" stroke="#000" stroke-width="1.5"/>
<rect x="158.29" y="263.85" width="6.10" height="6.10" fill="#fff" stroke="#000" stroke-width="1.5"/>
<rect x="164.75" y="257.75" width="6.10" height="6.10" fill="#fff" stroke="#000" stroke-width="1.5"/>
<rect x="171.21" y="264.65" width="6.10" height="6.10" fill="#fff" stroke="#000" stroke-width="1.5"/>
<line x1="268.10" y1="248.40" x2="268.10" y2="364.90" stroke="#000" stroke-width="2" stroke-linecap="butt"/>
<line x1="264.00" y1="364.90" x2="268.10" y2="364.90" stroke="#000" stroke-width="2" stroke-linecap="butt"/>
<text x="260.2" y="369.6" font-size="13" text-anchor="end" font-weight="normal" fill="#000" >0</text>
<line x1="264.00" y1="341.80" x2="268.10" y2="341.80" stroke="#000" stroke-width="2" stroke-linecap="butt"/>
<text x="260.2" y="346.5" font-size="13" text-anchor="end" font-weight="normal" fill="#000" >500</text>
<line x1="264.00" y1="318.70" x2="268.10" y2="318.70" stroke="#000" stroke-width="2" stroke-linecap="butt"/>
<text x="260.2" y="323.4" font-size="13" text-anchor="end" font-weight="normal" fill="#000" >1000</text>
<line x1="264.00" y1="295.60" x2="268.10" y2="295.60" stroke="#000" stroke-width="2" stroke-linecap="butt"/>
<text x="260.2" y="300.3" font-size="13" text-anchor="end" font-weight="normal" fill="#000" >1500</text>
<line x1="264.00" y1="272.50" x2="268.10" y2="272.50" stroke="#000" stroke-width="2" stroke-linecap="butt"/>
<text x="260.2" y="277.2" font-size="13" text-anchor="end" font-weight="normal" fill="#000" >2000</text>
<line x1="264.00" y1="249.40" x2="268.10" y2="249.40" stroke="#000" stroke-width="2" stroke-linecap="butt"/>
<text x="260.2" y="254.1" font-size="13" text-anchor="end" font-weight="normal" fill="#000" >2500</text>
<line x1="267.10" y1="364.90" x2="344.80" y2="364.90" stroke="#000" stroke-width="2" stroke-linecap="butt"/>
<text x="0" y="0" font-size="13.2" text-anchor="middle" fill="#000" transform="translate(220.0,307.6) rotate(-90)">eWAT (mg)</text>
<line x1="273.90" y1="272.20" x2="298.00" y2="272.20" stroke="#000" stroke-width="2.1" stroke-linecap="round"/>
<polygon points="278.73,265.20 279.43,266.63 281.01,266.86 279.87,267.97 280.14,269.54 278.73,268.80 277.31,269.54 277.58,267.97 276.44,266.86 278.02,266.63" fill="#000" stroke="#000" stroke-width="0.35" stroke-linejoin="round"/>
<polygon points="284.58,265.20 285.28,266.63 286.86,266.86 285.72,267.97 285.99,269.54 284.58,268.80 283.16,269.54 283.43,267.97 282.29,266.86 283.87,266.63" fill="#000" stroke="#000" stroke-width="0.35" stroke-linejoin="round"/>
<polygon points="290.43,265.20 291.13,266.63 292.71,266.86 291.57,267.97 291.84,269.54 290.43,268.80 289.01,269.54 289.28,267.97 288.14,266.86 289.72,266.63" fill="#000" stroke="#000" stroke-width="0.35" stroke-linejoin="round"/>
<polygon points="296.28,265.20 296.98,266.63 298.56,266.86 297.42,267.97 297.69,269.54 296.28,268.80 294.86,269.54 295.13,267.97 293.99,266.86 295.57,266.63" fill="#000" stroke="#000" stroke-width="0.35" stroke-linejoin="round"/>
<line x1="291.20" y1="244.60" x2="334.40" y2="244.60" stroke="#000" stroke-width="2.1" stroke-linecap="round"/>
<polygon points="313.80,236.50 314.51,237.93 316.08,238.16 314.94,239.27 315.21,240.84 313.80,240.10 312.39,240.84 312.66,239.27 311.52,238.16 313.09,237.93" fill="#000" stroke="#000" stroke-width="0.35" stroke-linejoin="round"/>
<line x1="310.70" y1="259.00" x2="334.90" y2="259.00" stroke="#000" stroke-width="2.1" stroke-linecap="round"/>
<polygon points="315.83,252.40 316.53,253.83 318.11,254.06 316.97,255.17 317.24,256.74 315.83,256.00 314.41,256.74 314.68,255.17 313.54,254.06 315.12,253.83" fill="#000" stroke="#000" stroke-width="0.35" stroke-linejoin="round"/>
<polygon points="321.68,252.40 322.38,253.83 323.96,254.06 322.82,255.17 323.09,256.74 321.68,256.00 320.26,256.74 320.53,255.17 319.39,254.06 320.97,253.83" fill="#000" stroke="#000" stroke-width="0.35" stroke-linejoin="round"/>
<polygon points="327.53,252.40 328.23,253.83 329.81,254.06 328.67,255.17 328.94,256.74 327.53,256.00 326.11,256.74 326.38,255.17 325.24,254.06 326.82,253.83" fill="#000" stroke="#000" stroke-width="0.35" stroke-linejoin="round"/>
<polygon points="333.38,252.40 334.08,253.83 335.66,254.06 334.52,255.17 334.79,256.74 333.38,256.00 331.96,256.74 332.23,255.17 331.09,254.06 332.67,253.83" fill="#000" stroke="#000" stroke-width="0.35" stroke-linejoin="round"/>
<line x1="280.50" y1="341.80" x2="280.50" y2="347.50" stroke="#000" stroke-width="1.3" stroke-linecap="butt"/>
<line x1="280.50" y1="354.50" x2="280.50" y2="356.50" stroke="#000" stroke-width="1.3" stroke-linecap="butt"/>
<rect x="274.50" y="347.50" width="12.00" height="7.00" fill="none" stroke="#000" stroke-width="1.3"/>
<line x1="274.50" y1="352.00" x2="286.50" y2="352.00" stroke="#000" stroke-width="1.3" stroke-linecap="butt"/>
<circle cx="279.90" cy="341.80" r="3.05" fill="#fff" stroke="#000" stroke-width="1.5"/>
<circle cx="278.00" cy="348.00" r="3.05" fill="#fff" stroke="#000" stroke-width="1.5"/>
<circle cx="284.00" cy="349.30" r="3.05" fill="#fff" stroke="#000" stroke-width="1.5"/>
<circle cx="282.00" cy="352.60" r="3.05" fill="#fff" stroke="#000" stroke-width="1.5"/>
<circle cx="277.00" cy="356.00" r="3.05" fill="#fff" stroke="#000" stroke-width="1.5"/>
<circle cx="283.00" cy="354.00" r="3.05" fill="#fff" stroke="#000" stroke-width="1.5"/>
<circle cx="278.50" cy="352.00" r="3.05" fill="#fff" stroke="#000" stroke-width="1.5"/>
<line x1="297.80" y1="298.00" x2="297.80" y2="300.00" stroke="#000" stroke-width="1.3" stroke-linecap="butt"/>
<line x1="297.80" y1="309.50" x2="297.80" y2="319.10" stroke="#000" stroke-width="1.3" stroke-linecap="butt"/>
<rect x="291.80" y="300.00" width="12.00" height="9.50" fill="none" stroke="#000" stroke-width="1.3"/>
<line x1="291.80" y1="305.00" x2="303.80" y2="305.00" stroke="#000" stroke-width="1.3" stroke-linecap="butt"/>
<rect x="291.80" y="295.00" width="6.00" height="6.00" fill="#fff" stroke="#000" stroke-width="1.5"/>
<rect x="298.50" y="298.20" width="6.00" height="6.00" fill="#fff" stroke="#000" stroke-width="1.5"/>
<rect x="294.00" y="300.00" width="6.00" height="6.00" fill="#fff" stroke="#000" stroke-width="1.5"/>
<rect x="295.60" y="306.20" width="6.00" height="6.00" fill="#fff" stroke="#000" stroke-width="1.5"/>
<rect x="290.50" y="305.20" width="6.00" height="6.00" fill="#fff" stroke="#000" stroke-width="1.5"/>
<rect x="294.80" y="316.10" width="6.00" height="6.00" fill="#fff" stroke="#000" stroke-width="1.5"/>
<circle cx="316.30" cy="344.30" r="3.10" fill="#d882f9" stroke="#000" stroke-width="1.4"/>
<circle cx="318.50" cy="350.60" r="3.10" fill="#d882f9" stroke="#000" stroke-width="1.4"/>
<circle cx="313.50" cy="351.80" r="3.10" fill="#d882f9" stroke="#000" stroke-width="1.4"/>
<circle cx="316.00" cy="354.60" r="3.10" fill="#d882f9" stroke="#000" stroke-width="1.4"/>
<circle cx="312.00" cy="356.00" r="3.10" fill="#d882f9" stroke="#000" stroke-width="1.4"/>
<line x1="333.40" y1="267.30" x2="333.40" y2="281.40" stroke="#000" stroke-width="1.3" stroke-linecap="butt"/>
<line x1="333.40" y1="299.60" x2="333.40" y2="311.20" stroke="#000" stroke-width="1.3" stroke-linecap="butt"/>
<rect x="327.60" y="281.40" width="11.60" height="18.20" fill="none" stroke="#000" stroke-width="1.3"/>
<line x1="327.60" y1="292.50" x2="339.20" y2="292.50" stroke="#000" stroke-width="1.3" stroke-linecap="butt"/>
<rect x="330.15" y="264.25" width="6.10" height="6.10" fill="#d882f9" stroke="#000" stroke-width="1.4"/>
<rect x="330.15" y="282.15" width="6.10" height="6.10" fill="#d882f9" stroke="#000" stroke-width="1.4"/>
<rect x="327.45" y="289.55" width="6.10" height="6.10" fill="#d882f9" stroke="#000" stroke-width="1.4"/>
<rect x="333.95" y="290.25" width="6.10" height="6.10" fill="#d882f9" stroke="#000" stroke-width="1.4"/>
<rect x="330.45" y="294.55" width="6.10" height="6.10" fill="#d882f9" stroke="#000" stroke-width="1.4"/>
<rect x="330.15" y="308.15" width="6.10" height="6.10" fill="#d882f9" stroke="#000" stroke-width="1.4"/>
<rect x="327.45" y="282.45" width="6.10" height="6.10" fill="#d882f9" stroke="#000" stroke-width="1.4"/>
<rect x="332.95" y="284.95" width="6.10" height="6.10" fill="#d882f9" stroke="#000" stroke-width="1.4"/>
<line x1="436.10" y1="247.40" x2="436.10" y2="365.30" stroke="#000" stroke-width="2" stroke-linecap="butt"/>
<line x1="432.00" y1="365.30" x2="436.10" y2="365.30" stroke="#000" stroke-width="2" stroke-linecap="butt"/>
<text x="428.2" y="370.0" font-size="13" text-anchor="end" font-weight="normal" fill="#000" >0</text>
<line x1="432.00" y1="326.33" x2="436.10" y2="326.33" stroke="#000" stroke-width="2" stroke-linecap="butt"/>
<text x="428.2" y="331.0" font-size="13" text-anchor="end" font-weight="normal" fill="#000" >1000</text>
<line x1="432.00" y1="287.36" x2="436.10" y2="287.36" stroke="#000" stroke-width="2" stroke-linecap="butt"/>
<text x="428.2" y="292.0" font-size="13" text-anchor="end" font-weight="normal" fill="#000" >2000</text>
<line x1="432.00" y1="248.39" x2="436.10" y2="248.39" stroke="#000" stroke-width="2" stroke-linecap="butt"/>
<text x="428.2" y="253.1" font-size="13" text-anchor="end" font-weight="normal" fill="#000" >3000</text>
<line x1="435.10" y1="365.30" x2="513.90" y2="365.30" stroke="#000" stroke-width="2" stroke-linecap="butt"/>
<text x="0" y="0" font-size="13.4" text-anchor="middle" fill="#000" transform="translate(389.6,305.4) rotate(-90)">iWAT (mg)</text>
<line x1="444.50" y1="250.20" x2="470.00" y2="250.20" stroke="#000" stroke-width="2.1" stroke-linecap="round"/>
<polygon points="449.73,242.10 450.43,243.53 452.01,243.76 450.87,244.87 451.14,246.44 449.73,245.70 448.31,246.44 448.58,244.87 447.44,243.76 449.02,243.53" fill="#000" stroke="#000" stroke-width="0.35" stroke-linejoin="round"/>
<polygon points="455.58,242.10 456.28,243.53 457.86,243.76 456.72,244.87 456.99,246.44 455.58,245.70 454.16,246.44 454.43,244.87 453.29,243.76 454.87,243.53" fill="#000" stroke="#000" stroke-width="0.35" stroke-linejoin="round"/>
<polygon points="461.43,242.10 462.13,243.53 463.71,243.76 462.57,244.87 462.84,246.44 461.43,245.70 460.01,246.44 460.28,244.87 459.14,243.76 460.72,243.53" fill="#000" stroke="#000" stroke-width="0.35" stroke-linejoin="round"/>
<polygon points="467.28,242.10 467.98,243.53 469.56,243.76 468.42,244.87 468.69,246.44 467.28,245.70 465.86,246.44 466.13,244.87 464.99,243.76 466.57,243.53" fill="#000" stroke="#000" stroke-width="0.35" stroke-linejoin="round"/>
<line x1="460.30" y1="235.60" x2="506.00" y2="235.60" stroke="#000" stroke-width="2.1" stroke-linecap="round"/>
<polygon points="480.38,228.10 481.08,229.53 482.66,229.76 481.52,230.87 481.79,232.44 480.38,231.70 478.96,232.44 479.23,230.87 478.09,229.76 479.67,229.53" fill="#000" stroke="#000" stroke-width="0.35" stroke-linejoin="round"/>
<polygon points="486.23,228.10 486.93,229.53 488.51,229.76 487.37,230.87 487.64,232.44 486.23,231.70 484.81,232.44 485.08,230.87 483.94,229.76 485.52,229.53" fill="#000" stroke="#000" stroke-width="0.35" stroke-linejoin="round"/>
<line x1="483.10" y1="251.10" x2="509.00" y2="251.10" stroke="#000" stroke-width="2.1" stroke-linecap="round"/>
<polygon points="488.23,243.40 488.93,244.83 490.51,245.06 489.37,246.17 489.64,247.74 488.23,247.00 486.81,247.74 487.08,246.17 485.94,245.06 487.52,244.83" fill="#000" stroke="#000" stroke-width="0.35" stroke-linejoin="round"/>
<polygon points="494.08,243.40 494.78,244.83 496.36,245.06 495.22,246.17 495.49,247.74 494.08,247.00 492.66,247.74 492.93,246.17 491.79,245.06 493.37,244.83" fill="#000" stroke="#000" stroke-width="0.35" stroke-linejoin="round"/>
<polygon points="499.93,243.40 500.63,244.83 502.21,245.06 501.07,246.17 501.34,247.74 499.93,247.00 498.51,247.74 498.78,246.17 497.64,245.06 499.22,244.83" fill="#000" stroke="#000" stroke-width="0.35" stroke-linejoin="round"/>
<polygon points="505.78,243.40 506.48,244.83 508.06,245.06 506.92,246.17 507.19,247.74 505.78,247.00 504.36,247.74 504.63,246.17 503.49,245.06 505.07,244.83" fill="#000" stroke="#000" stroke-width="0.35" stroke-linejoin="round"/>
<circle cx="447.30" cy="356.00" r="3.05" fill="#fff" stroke="#000" stroke-width="1.5"/>
<circle cx="444.00" cy="359.00" r="3.05" fill="#fff" stroke="#000" stroke-width="1.5"/>
<circle cx="450.00" cy="360.00" r="3.05" fill="#fff" stroke="#000" stroke-width="1.5"/>
<circle cx="446.00" cy="361.20" r="3.05" fill="#fff" stroke="#000" stroke-width="1.5"/>
<circle cx="449.00" cy="358.00" r="3.05" fill="#fff" stroke="#000" stroke-width="1.5"/>
<circle cx="445.00" cy="357.00" r="3.05" fill="#fff" stroke="#000" stroke-width="1.5"/>
<line x1="466.20" y1="261.00" x2="466.20" y2="266.50" stroke="#000" stroke-width="1.3" stroke-linecap="butt"/>
<line x1="466.20" y1="278.00" x2="466.20" y2="280.80" stroke="#000" stroke-width="1.3" stroke-linecap="butt"/>
<rect x="460.70" y="266.50" width="11.00" height="11.50" fill="none" stroke="#000" stroke-width="1.3"/>
<line x1="460.70" y1="271.00" x2="471.70" y2="271.00" stroke="#000" stroke-width="1.3" stroke-linecap="butt"/>
<rect x="463.20" y="258.00" width="6.00" height="6.00" fill="#fff" stroke="#000" stroke-width="1.5"/>
<rect x="460.50" y="264.90" width="6.00" height="6.00" fill="#fff" stroke="#000" stroke-width="1.5"/>
<rect x="466.00" y="266.30" width="6.00" height="6.00" fill="#fff" stroke="#000" stroke-width="1.5"/>
<rect x="463.00" y="268.30" width="6.00" height="6.00" fill="#fff" stroke="#000" stroke-width="1.5"/>
<rect x="466.50" y="272.60" width="6.00" height="6.00" fill="#fff" stroke="#000" stroke-width="1.5"/>
<rect x="460.50" y="277.80" width="6.00" height="6.00" fill="#fff" stroke="#000" stroke-width="1.5"/>
<circle cx="484.00" cy="358.00" r="3.10" fill="#d882f9" stroke="#000" stroke-width="1.4"/>
<circle cx="482.00" cy="361.00" r="3.10" fill="#d882f9" stroke="#000" stroke-width="1.4"/>
<circle cx="486.50" cy="359.00" r="3.10" fill="#d882f9" stroke="#000" stroke-width="1.4"/>
<circle cx="484.00" cy="361.50" r="3.10" fill="#d882f9" stroke="#000" stroke-width="1.4"/>
<line x1="502.20" y1="270.50" x2="502.20" y2="285.90" stroke="#000" stroke-width="1.3" stroke-linecap="butt"/>
<line x1="502.20" y1="300.50" x2="502.20" y2="325.90" stroke="#000" stroke-width="1.3" stroke-linecap="butt"/>
<rect x="496.40" y="285.90" width="11.60" height="14.60" fill="none" stroke="#000" stroke-width="1.3"/>
<line x1="496.40" y1="293.00" x2="508.00" y2="293.00" stroke="#000" stroke-width="1.3" stroke-linecap="butt"/>
<rect x="499.15" y="267.45" width="6.10" height="6.10" fill="#d882f9" stroke="#000" stroke-width="1.4"/>
<rect x="496.95" y="285.95" width="6.10" height="6.10" fill="#d882f9" stroke="#000" stroke-width="1.4"/>
<rect x="500.95" y="287.95" width="6.10" height="6.10" fill="#d882f9" stroke="#000" stroke-width="1.4"/>
<rect x="499.45" y="289.95" width="6.10" height="6.10" fill="#d882f9" stroke="#000" stroke-width="1.4"/>
<rect x="496.95" y="293.45" width="6.10" height="6.10" fill="#d882f9" stroke="#000" stroke-width="1.4"/>
<rect x="500.45" y="294.45" width="6.10" height="6.10" fill="#d882f9" stroke="#000" stroke-width="1.4"/>
<rect x="499.15" y="322.85" width="6.10" height="6.10" fill="#d882f9" stroke="#000" stroke-width="1.4"/>
<line x1="606.70" y1="248.40" x2="606.70" y2="364.90" stroke="#000" stroke-width="2" stroke-linecap="butt"/>
<line x1="602.60" y1="364.90" x2="606.70" y2="364.90" stroke="#000" stroke-width="2" stroke-linecap="butt"/>
<text x="598.5" y="369.6" font-size="13" text-anchor="end" font-weight="normal" fill="#000" >0</text>
<line x1="602.60" y1="341.80" x2="606.70" y2="341.80" stroke="#000" stroke-width="2" stroke-linecap="butt"/>
<text x="598.5" y="346.5" font-size="13" text-anchor="end" font-weight="normal" fill="#000" >200</text>
<line x1="602.60" y1="318.70" x2="606.70" y2="318.70" stroke="#000" stroke-width="2" stroke-linecap="butt"/>
<text x="598.5" y="323.4" font-size="13" text-anchor="end" font-weight="normal" fill="#000" >400</text>
<line x1="602.60" y1="295.60" x2="606.70" y2="295.60" stroke="#000" stroke-width="2" stroke-linecap="butt"/>
<text x="598.5" y="300.3" font-size="13" text-anchor="end" font-weight="normal" fill="#000" >600</text>
<line x1="602.60" y1="272.50" x2="606.70" y2="272.50" stroke="#000" stroke-width="2" stroke-linecap="butt"/>
<text x="598.5" y="277.2" font-size="13" text-anchor="end" font-weight="normal" fill="#000" >800</text>
<line x1="602.60" y1="249.40" x2="606.70" y2="249.40" stroke="#000" stroke-width="2" stroke-linecap="butt"/>
<text x="598.5" y="254.1" font-size="13" text-anchor="end" font-weight="normal" fill="#000" >1000</text>
<line x1="605.70" y1="364.90" x2="683.80" y2="364.90" stroke="#000" stroke-width="2" stroke-linecap="butt"/>
<text x="0" y="0" font-size="13.2" text-anchor="middle" fill="#000" transform="translate(561.2,307.0) rotate(-90)">pWAT (mg)</text>
<line x1="615.20" y1="253.10" x2="642.10" y2="253.10" stroke="#000" stroke-width="2.1" stroke-linecap="round"/>
<polygon points="621.02,245.70 621.73,247.13 623.31,247.36 622.17,248.47 622.44,250.04 621.02,249.30 619.61,250.04 619.88,248.47 618.74,247.36 620.32,247.13" fill="#000" stroke="#000" stroke-width="0.35" stroke-linejoin="round"/>
<polygon points="626.88,245.70 627.58,247.13 629.16,247.36 628.02,248.47 628.29,250.04 626.88,249.30 625.46,250.04 625.73,248.47 624.59,247.36 626.17,247.13" fill="#000" stroke="#000" stroke-width="0.35" stroke-linejoin="round"/>
<polygon points="632.73,245.70 633.43,247.13 635.01,247.36 633.87,248.47 634.14,250.04 632.73,249.30 631.31,250.04 631.58,248.47 630.44,247.36 632.02,247.13" fill="#000" stroke="#000" stroke-width="0.35" stroke-linejoin="round"/>
<polygon points="638.57,245.70 639.28,247.13 640.86,247.36 639.72,248.47 639.99,250.04 638.57,249.30 637.16,250.04 637.43,248.47 636.29,247.36 637.87,247.13" fill="#000" stroke="#000" stroke-width="0.35" stroke-linejoin="round"/>
<line x1="631.90" y1="240.50" x2="679.60" y2="240.50" stroke="#000" stroke-width="2.1" stroke-linecap="round"/>
<polygon points="648.83,233.10 649.53,234.53 651.11,234.76 649.97,235.87 650.24,237.44 648.83,236.70 647.41,237.44 647.68,235.87 646.54,234.76 648.12,234.53" fill="#000" stroke="#000" stroke-width="0.35" stroke-linejoin="round"/>
<polygon points="654.68,233.10 655.38,234.53 656.96,234.76 655.82,235.87 656.09,237.44 654.68,236.70 653.26,237.44 653.53,235.87 652.39,234.76 653.97,234.53" fill="#000" stroke="#000" stroke-width="0.35" stroke-linejoin="round"/>
<polygon points="660.53,233.10 661.23,234.53 662.81,234.76 661.67,235.87 661.94,237.44 660.53,236.70 659.11,237.44 659.38,235.87 658.24,234.76 659.82,234.53" fill="#000" stroke="#000" stroke-width="0.35" stroke-linejoin="round"/>
<polygon points="666.38,233.10 667.08,234.53 668.66,234.76 667.52,235.87 667.79,237.44 666.38,236.70 664.96,237.44 665.23,235.87 664.09,234.76 665.67,234.53" fill="#000" stroke="#000" stroke-width="0.35" stroke-linejoin="round"/>
<line x1="651.50" y1="295.50" x2="678.10" y2="295.50" stroke="#000" stroke-width="2.1" stroke-linecap="round"/>
<polygon points="658.02,287.20 658.73,288.63 660.31,288.86 659.17,289.97 659.44,291.54 658.02,290.80 656.61,291.54 656.88,289.97 655.74,288.86 657.32,288.63" fill="#000" stroke="#000" stroke-width="0.35" stroke-linejoin="round"/>
<polygon points="663.88,287.20 664.58,288.63 666.16,288.86 665.02,289.97 665.29,291.54 663.88,290.80 662.46,291.54 662.73,289.97 661.59,288.86 663.17,288.63" fill="#000" stroke="#000" stroke-width="0.35" stroke-linejoin="round"/>
<polygon points="669.73,287.20 670.43,288.63 672.01,288.86 670.87,289.97 671.14,291.54 669.73,290.80 668.31,291.54 668.58,289.97 667.44,288.86 669.02,288.63" fill="#000" stroke="#000" stroke-width="0.35" stroke-linejoin="round"/>
<polygon points="675.57,287.20 676.28,288.63 677.86,288.86 676.72,289.97 676.99,291.54 675.57,290.80 674.16,291.54 674.43,289.97 673.29,288.86 674.87,288.63" fill="#000" stroke="#000" stroke-width="0.35" stroke-linejoin="round"/>
<circle cx="616.00" cy="362.50" r="3.05" fill="#fff" stroke="#000" stroke-width="1.5"/>
<circle cx="619.50" cy="362.00" r="3.05" fill="#fff" stroke="#000" stroke-width="1.5"/>
<circle cx="621.50" cy="363.00" r="3.05" fill="#fff" stroke="#000" stroke-width="1.5"/>
<circle cx="617.50" cy="363.20" r="3.05" fill="#fff" stroke="#000" stroke-width="1.5"/>
<line x1="636.30" y1="262.10" x2="636.30" y2="270.60" stroke="#000" stroke-width="1.3" stroke-linecap="butt"/>
<line x1="636.30" y1="289.80" x2="636.30" y2="298.30" stroke="#000" stroke-width="1.3" stroke-linecap="butt"/>
<rect x="630.80" y="270.60" width="11.00" height="19.20" fill="none" stroke="#000" stroke-width="1.3"/>
<line x1="630.80" y1="280.00" x2="641.80" y2="280.00" stroke="#000" stroke-width="1.3" stroke-linecap="butt"/>
<rect x="633.30" y="259.10" width="6.00" height="6.00" fill="#fff" stroke="#000" stroke-width="1.5"/>
<rect x="633.30" y="269.70" width="6.00" height="6.00" fill="#fff" stroke="#000" stroke-width="1.5"/>
<rect x="633.30" y="279.00" width="6.00" height="6.00" fill="#fff" stroke="#000" stroke-width="1.5"/>
<rect x="636.50" y="287.50" width="6.00" height="6.00" fill="#fff" stroke="#000" stroke-width="1.5"/>
<rect x="630.50" y="288.90" width="6.00" height="6.00" fill="#fff" stroke="#000" stroke-width="1.5"/>
<rect x="636.50" y="292.50" width="6.00" height="6.00" fill="#fff" stroke="#000" stroke-width="1.5"/>
<rect x="630.50" y="295.30" width="6.00" height="6.00" fill="#fff" stroke="#000" stroke-width="1.5"/>
<circle cx="652.00" cy="362.50" r="3.10" fill="#d882f9" stroke="#000" stroke-width="1.4"/>
<circle cx="655.00" cy="362.00" r="3.10" fill="#d882f9" stroke="#000" stroke-width="1.4"/>
<circle cx="654.00" cy="363.00" r="3.10" fill="#d882f9" stroke="#000" stroke-width="1.4"/>
<line x1="672.00" y1="316.00" x2="672.00" y2="313.20" stroke="#000" stroke-width="1.3" stroke-linecap="butt"/>
<line x1="672.00" y1="332.10" x2="672.00" y2="343.00" stroke="#000" stroke-width="1.3" stroke-linecap="butt"/>
<rect x="666.40" y="313.20" width="11.20" height="18.90" fill="none" stroke="#000" stroke-width="1.3"/>
<line x1="666.40" y1="322.00" x2="677.60" y2="322.00" stroke="#000" stroke-width="1.3" stroke-linecap="butt"/>
<rect x="671.45" y="312.95" width="6.10" height="6.10" fill="#d882f9" stroke="#000" stroke-width="1.4"/>
<rect x="665.45" y="317.25" width="6.10" height="6.10" fill="#d882f9" stroke="#000" stroke-width="1.4"/>
<rect x="671.45" y="320.15" width="6.10" height="6.10" fill="#d882f9" stroke="#000" stroke-width="1.4"/>
<rect x="664.95" y="322.95" width="6.10" height="6.10" fill="#d882f9" stroke="#000" stroke-width="1.4"/>
<rect x="668.75" y="325.75" width="6.10" height="6.10" fill="#d882f9" stroke="#000" stroke-width="1.4"/>
<rect x="668.75" y="339.95" width="6.10" height="6.10" fill="#d882f9" stroke="#000" stroke-width="1.4"/>
<rect x="103.70" y="443.70" width="24.20" height="24.10" fill="rgb(214,128,250)" />
<rect x="127.90" y="443.70" width="24.00" height="24.10" fill="rgb(240,213,253)" />
<rect x="103.70" y="467.50" width="24.20" height="24.10" fill="rgb(238,206,252)" />
<rect x="127.90" y="467.50" width="24.00" height="24.10" fill="rgb(250,241,253)" />
<rect x="103.70" y="491.30" width="24.20" height="24.10" fill="rgb(232,186,252)" />
<rect x="127.90" y="491.30" width="24.00" height="24.10" fill="rgb(248,232,253)" />
<rect x="103.70" y="515.10" width="24.20" height="24.10" fill="rgb(238,205,252)" />
<rect x="127.90" y="515.10" width="24.00" height="24.10" fill="rgb(253,248,253)" />
<rect x="103.70" y="538.90" width="24.20" height="24.10" fill="rgb(234,196,252)" />
<rect x="127.90" y="538.90" width="24.00" height="24.10" fill="rgb(240,216,253)" />
<rect x="103.70" y="562.70" width="24.20" height="24.10" fill="rgb(214,130,250)" />
<rect x="127.90" y="562.70" width="24.00" height="24.10" fill="rgb(232,190,252)" />
<rect x="103.70" y="586.50" width="24.20" height="24.10" fill="rgb(225,162,252)" />
<rect x="127.90" y="586.50" width="24.00" height="24.10" fill="rgb(238,209,253)" />
<text x="98.4" y="459.2" font-size="9.3" text-anchor="end" font-weight="normal" fill="#222" >CD45<tspan dy="-3.3" font-size="6.2">+</tspan></text>
<text x="98.4" y="483.0" font-size="9.3" text-anchor="end" font-weight="normal" fill="#222" >CD3<tspan dy="-3.3" font-size="6.2">+</tspan><tspan dy="3.3">CD4</tspan><tspan dy="-3.3" font-size="6.2">+</tspan></text>
<text x="98.4" y="506.8" font-size="9.3" text-anchor="end" font-weight="normal" fill="#222" >CD3<tspan dy="-3.3" font-size="6.2">+</tspan><tspan dy="3.3">CD8</tspan><tspan dy="-3.3" font-size="6.2">+</tspan></text>
<text x="98.4" y="530.6" font-size="9.3" text-anchor="end" font-weight="normal" fill="#222" >CD11c<tspan dy="-3.3" font-size="6.2">−</tspan><tspan dy="3.3">B220</tspan><tspan dy="-3.3" font-size="6.2">+</tspan></text>
<text x="98.4" y="554.4" font-size="9.3" text-anchor="end" font-weight="normal" fill="#222" >F4/80<tspan dy="-3.3" font-size="6.2">+</tspan><tspan dy="3.3">CD11b</tspan><tspan dy="-3.3" font-size="6.2">+</tspan></text>
<text x="98.4" y="578.2" font-size="9.3" text-anchor="end" font-weight="normal" fill="#222" >F4/80<tspan dy="-3.3" font-size="6.2">+</tspan><tspan dy="3.3">CD11b</tspan><tspan dy="-3.3" font-size="6.2">+</tspan><tspan dy="3.3">IL6</tspan><tspan dy="-3.3" font-size="6.2">+</tspan></text>
<text x="98.4" y="602.0" font-size="9.3" text-anchor="end" font-weight="normal" fill="#222" >F4/80<tspan dy="-3.3" font-size="6.2">+</tspan><tspan dy="3.3">CD11b</tspan><tspan dy="-3.3" font-size="6.2">+</tspan><tspan dy="3.3">TNFα</tspan><tspan dy="-3.3" font-size="6.2">+</tspan></text>
<polygon points="139.40,455.25 140.03,456.53 141.44,456.74 140.42,457.73 140.66,459.14 139.40,458.47 138.14,459.14 138.38,457.73 137.36,456.74 138.77,456.53" fill="#000" stroke="#000" stroke-width="0.35" stroke-linejoin="round"/>
<polygon points="136.55,479.05 137.18,480.33 138.59,480.54 137.57,481.53 137.81,482.94 136.55,482.27 135.29,482.94 135.53,481.53 134.51,480.54 135.92,480.33" fill="#000" stroke="#000" stroke-width="0.35" stroke-linejoin="round"/>
<polygon points="142.25,479.05 142.88,480.33 144.29,480.54 143.27,481.53 143.51,482.94 142.25,482.27 140.99,482.94 141.23,481.53 140.21,480.54 141.62,480.33" fill="#000" stroke="#000" stroke-width="0.35" stroke-linejoin="round"/>
<polygon points="139.40,502.85 140.03,504.13 141.44,504.34 140.42,505.33 140.66,506.74 139.40,506.07 138.14,506.74 138.38,505.33 137.36,504.34 138.77,504.13" fill="#000" stroke="#000" stroke-width="0.35" stroke-linejoin="round"/>
<polygon points="136.55,526.65 137.18,527.93 138.59,528.14 137.57,529.13 137.81,530.54 136.55,529.88 135.29,530.54 135.53,529.13 134.51,528.14 135.92,527.93" fill="#000" stroke="#000" stroke-width="0.35" stroke-linejoin="round"/>
<polygon points="142.25,526.65 142.88,527.93 144.29,528.14 143.27,529.13 143.51,530.54 142.25,529.88 140.99,530.54 141.23,529.13 140.21,528.14 141.62,527.93" fill="#000" stroke="#000" stroke-width="0.35" stroke-linejoin="round"/>
<polygon points="139.40,574.25 140.03,575.53 141.44,575.74 140.42,576.73 140.66,578.14 139.40,577.48 138.14,578.14 138.38,576.73 137.36,575.74 138.77,575.53" fill="#000" stroke="#000" stroke-width="0.35" stroke-linejoin="round"/>
<polygon points="139.40,598.05 140.03,599.33 141.44,599.54 140.42,600.53 140.66,601.94 139.40,601.27 138.14,601.94 138.38,600.53 137.36,599.54 138.77,599.33" fill="#000" stroke="#000" stroke-width="0.35" stroke-linejoin="round"/>
<text x="129.6" y="427.7" font-size="10" text-anchor="middle" font-weight="normal" fill="#222" >eWAT</text>
<line x1="115.80" y1="429.40" x2="143.50" y2="429.40" stroke="#222" stroke-width="0.9" stroke-linecap="butt"/>
<text x="114.0" y="440.1" font-size="8.2" text-anchor="middle" font-weight="normal" fill="#222" >WT</text>
<text x="126.3" y="440.1" font-size="8.2" text-anchor="start" font-weight="normal" fill="#222" >IFNAR<tspan dy="-3" font-size="6">−/−</tspan></text>
<defs><linearGradient id="g1" x1="0" x2="1" y1="0" y2="0"><stop offset="0" stop-color="#fff"/><stop offset="1" stop-color="rgb(205,100,250)"/></linearGradient></defs>
<rect x="103.80" y="613.30" width="48.10" height="8.30" fill="url(#g1)" stroke="#000" stroke-width="1.2"/>
<line x1="115.83" y1="613.30" x2="115.83" y2="614.90" stroke="#000" stroke-width="0.8" stroke-linecap="butt"/>
<line x1="115.83" y1="620.00" x2="115.83" y2="621.60" stroke="#000" stroke-width="0.8" stroke-linecap="butt"/>
<line x1="128.33" y1="613.30" x2="128.33" y2="614.90" stroke="#000" stroke-width="0.8" stroke-linecap="butt"/>
<line x1="128.33" y1="620.00" x2="128.33" y2="621.60" stroke="#000" stroke-width="0.8" stroke-linecap="butt"/>
<line x1="141.32" y1="613.30" x2="141.32" y2="614.90" stroke="#000" stroke-width="0.8" stroke-linecap="butt"/>
<line x1="141.32" y1="620.00" x2="141.32" y2="621.60" stroke="#000" stroke-width="0.8" stroke-linecap="butt"/>
<text x="97.2" y="631.8" font-size="7.1" text-anchor="start" font-weight="normal" fill="#222" >Min</text>
<text x="158.9" y="631.8" font-size="7.1" text-anchor="end" font-weight="normal" fill="#222" >Max</text>
<line x1="256.50" y1="452.00" x2="256.50" y2="565.00" stroke="#000" stroke-width="2" stroke-linecap="butt"/>
<line x1="252.50" y1="557.25" x2="256.50" y2="557.25" stroke="#000" stroke-width="2" stroke-linecap="butt"/>
<text x="248.6" y="561.3" font-size="11.2" text-anchor="end" font-weight="normal" fill="#000" >100</text>
<line x1="252.50" y1="522.50" x2="256.50" y2="522.50" stroke="#000" stroke-width="2" stroke-linecap="butt"/>
<text x="248.6" y="526.5" font-size="11.2" text-anchor="end" font-weight="normal" fill="#000" >200</text>
<line x1="252.50" y1="487.75" x2="256.50" y2="487.75" stroke="#000" stroke-width="2" stroke-linecap="butt"/>
<text x="248.6" y="491.8" font-size="11.2" text-anchor="end" font-weight="normal" fill="#000" >300</text>
<line x1="252.50" y1="453.00" x2="256.50" y2="453.00" stroke="#000" stroke-width="2" stroke-linecap="butt"/>
<text x="248.6" y="457.0" font-size="11.2" text-anchor="end" font-weight="normal" fill="#000" >400</text>
<text x="248.6" y="596.0" font-size="11.2" text-anchor="end" font-weight="normal" fill="#000" >0</text>
<path d="M256.5,560 L256.5,591.8 L397.5,591.8" stroke="#000" stroke-width="2" fill="none" stroke-linejoin="round"/>
<line x1="279.60" y1="592.00" x2="279.60" y2="596.20" stroke="#000" stroke-width="2" stroke-linecap="butt"/>
<text x="279.6" y="608.4" font-size="11.2" text-anchor="middle" font-weight="normal" fill="#000" >0</text>
<line x1="302.80" y1="592.00" x2="302.80" y2="596.20" stroke="#000" stroke-width="2" stroke-linecap="butt"/>
<text x="302.8" y="608.4" font-size="11.2" text-anchor="middle" font-weight="normal" fill="#000" >20</text>
<line x1="326.20" y1="592.00" x2="326.20" y2="596.20" stroke="#000" stroke-width="2" stroke-linecap="butt"/>
<text x="326.2" y="608.4" font-size="11.2" text-anchor="middle" font-weight="normal" fill="#000" >40</text>
<line x1="349.30" y1="592.00" x2="349.30" y2="596.20" stroke="#000" stroke-width="2" stroke-linecap="butt"/>
<text x="349.3" y="608.4" font-size="11.2" text-anchor="middle" font-weight="normal" fill="#000" >60</text>
<line x1="372.80" y1="592.00" x2="372.80" y2="596.20" stroke="#000" stroke-width="2" stroke-linecap="butt"/>
<text x="372.8" y="608.4" font-size="11.2" text-anchor="middle" font-weight="normal" fill="#000" >90</text>
<line x1="395.90" y1="592.00" x2="395.90" y2="596.20" stroke="#000" stroke-width="2" stroke-linecap="butt"/>
<text x="395.9" y="608.4" font-size="11.2" text-anchor="middle" font-weight="normal" fill="#000" >120</text>
<text x="325.5" y="624.7" font-size="11.5" text-anchor="middle" font-weight="normal" fill="#000" >Time&#160; (min)</text>
<text x="0" y="0" font-size="11.5" text-anchor="middle" fill="#000" transform="translate(220.3,522.0) rotate(-90)">Glucose (mg/dl)</text>
<polyline points="279.60,557.60 302.80,509.40 326.20,515.00 349.30,522.00 372.80,528.40 395.90,529.40" stroke="#000" stroke-width="2" fill="none" stroke-linejoin="miter"/>
<polyline points="279.60,557.60 302.80,501.20 326.20,490.10 349.30,487.80 372.80,500.40 395.90,511.00" stroke="#000" stroke-width="2" fill="none" stroke-linejoin="miter"/>
<line x1="302.80" y1="496.00" x2="302.80" y2="505.00" stroke="#000" stroke-width="1.3" stroke-linecap="butt"/>
<line x1="299.40" y1="496.00" x2="306.20" y2="496.00" stroke="#000" stroke-width="1.3" stroke-linecap="butt"/>
<line x1="299.40" y1="505.00" x2="306.20" y2="505.00" stroke="#000" stroke-width="1.3" stroke-linecap="butt"/>
<line x1="326.00" y1="483.00" x2="326.00" y2="497.40" stroke="#000" stroke-width="1.3" stroke-linecap="butt"/>
<line x1="322.60" y1="483.00" x2="329.40" y2="483.00" stroke="#000" stroke-width="1.3" stroke-linecap="butt"/>
<line x1="322.60" y1="497.40" x2="329.40" y2="497.40" stroke="#000" stroke-width="1.3" stroke-linecap="butt"/>
<line x1="349.40" y1="485.00" x2="349.40" y2="491.00" stroke="#000" stroke-width="1.3" stroke-linecap="butt"/>
<line x1="346.00" y1="485.00" x2="352.80" y2="485.00" stroke="#000" stroke-width="1.3" stroke-linecap="butt"/>
<line x1="346.00" y1="491.00" x2="352.80" y2="491.00" stroke="#000" stroke-width="1.3" stroke-linecap="butt"/>
<line x1="373.00" y1="498.00" x2="373.00" y2="503.00" stroke="#000" stroke-width="1.3" stroke-linecap="butt"/>
<line x1="369.60" y1="498.00" x2="376.40" y2="498.00" stroke="#000" stroke-width="1.3" stroke-linecap="butt"/>
<line x1="369.60" y1="503.00" x2="376.40" y2="503.00" stroke="#000" stroke-width="1.3" stroke-linecap="butt"/>
<line x1="302.80" y1="505.50" x2="302.80" y2="512.00" stroke="#000" stroke-width="1.3" stroke-linecap="butt"/>
<line x1="299.40" y1="505.50" x2="306.20" y2="505.50" stroke="#000" stroke-width="1.3" stroke-linecap="butt"/>
<line x1="299.40" y1="512.00" x2="306.20" y2="512.00" stroke="#000" stroke-width="1.3" stroke-linecap="butt"/>
<line x1="326.00" y1="509.00" x2="326.00" y2="521.00" stroke="#000" stroke-width="1.3" stroke-linecap="butt"/>
<line x1="322.60" y1="509.00" x2="329.40" y2="509.00" stroke="#000" stroke-width="1.3" stroke-linecap="butt"/>
<line x1="322.60" y1="521.00" x2="329.40" y2="521.00" stroke="#000" stroke-width="1.3" stroke-linecap="butt"/>
<line x1="349.40" y1="515.00" x2="349.40" y2="529.00" stroke="#000" stroke-width="1.3" stroke-linecap="butt"/>
<line x1="346.00" y1="515.00" x2="352.80" y2="515.00" stroke="#000" stroke-width="1.3" stroke-linecap="butt"/>
<line x1="346.00" y1="529.00" x2="352.80" y2="529.00" stroke="#000" stroke-width="1.3" stroke-linecap="butt"/>
<line x1="373.00" y1="523.00" x2="373.00" y2="534.00" stroke="#000" stroke-width="1.3" stroke-linecap="butt"/>
<line x1="369.60" y1="523.00" x2="376.40" y2="523.00" stroke="#000" stroke-width="1.3" stroke-linecap="butt"/>
<line x1="369.60" y1="534.00" x2="376.40" y2="534.00" stroke="#000" stroke-width="1.3" stroke-linecap="butt"/>
<line x1="396.00" y1="519.60" x2="396.00" y2="539.00" stroke="#000" stroke-width="1.3" stroke-linecap="butt"/>
<line x1="392.60" y1="519.60" x2="399.40" y2="519.60" stroke="#000" stroke-width="1.3" stroke-linecap="butt"/>
<line x1="392.60" y1="539.00" x2="399.40" y2="539.00" stroke="#000" stroke-width="1.3" stroke-linecap="butt"/>
<rect x="276.30" y="554.30" width="6.60" height="6.60" fill="#fff" stroke="#000" stroke-width="1.7"/>
<rect x="299.50" y="497.90" width="6.60" height="6.60" fill="#fff" stroke="#000" stroke-width="1.7"/>
<rect x="322.90" y="486.80" width="6.60" height="6.60" fill="#fff" stroke="#000" stroke-width="1.7"/>
<rect x="346.00" y="484.50" width="6.60" height="6.60" fill="#fff" stroke="#000" stroke-width="1.7"/>
<rect x="369.50" y="497.10" width="6.60" height="6.60" fill="#fff" stroke="#000" stroke-width="1.7"/>
<rect x="392.60" y="507.70" width="6.60" height="6.60" fill="#fff" stroke="#000" stroke-width="1.7"/>
<rect x="299.35" y="505.95" width="6.90" height="6.90" fill="#d882f9" stroke="#000" stroke-width="1.3"/>
<rect x="322.75" y="511.55" width="6.90" height="6.90" fill="#d882f9" stroke="#000" stroke-width="1.3"/>
<rect x="345.85" y="518.55" width="6.90" height="6.90" fill="#d882f9" stroke="#000" stroke-width="1.3"/>
<rect x="369.35" y="524.95" width="6.90" height="6.90" fill="#d882f9" stroke="#000" stroke-width="1.3"/>
<rect x="392.45" y="525.95" width="6.90" height="6.90" fill="#d882f9" stroke="#000" stroke-width="1.3"/>
<line x1="404.40" y1="506.60" x2="404.40" y2="536.00" stroke="#000" stroke-width="1.6" stroke-linecap="butt"/>
<polygon points="411.20,519.10 411.93,520.59 413.58,520.83 412.39,521.99 412.67,523.62 411.20,522.85 409.73,523.62 410.01,521.99 408.82,520.83 410.47,520.59" fill="#000" stroke="#000" stroke-width="0.35" stroke-linejoin="round"/>
<polygon points="416.80,519.10 417.53,520.59 419.18,520.83 417.99,521.99 418.27,523.62 416.80,522.85 415.33,523.62 415.61,521.99 414.42,520.83 416.07,520.59" fill="#000" stroke="#000" stroke-width="0.35" stroke-linejoin="round"/>
<polygon points="422.40,519.10 423.13,520.59 424.78,520.83 423.59,521.99 423.87,523.62 422.40,522.85 420.93,523.62 421.21,521.99 420.02,520.83 421.67,520.59" fill="#000" stroke="#000" stroke-width="0.35" stroke-linejoin="round"/>
<rect x="306.65" y="557.45" width="5.90" height="5.90" fill="#fff" stroke="#000" stroke-width="1.5"/>
<text x="318.2" y="564.4" font-size="11.5" text-anchor="start" font-weight="normal" fill="#000" >WT</text>
<rect x="306.55" y="569.35" width="6.10" height="6.10" fill="#d882f9" stroke="#000" stroke-width="1.3"/>
<text x="318.2" y="576.4" font-size="11.5" text-anchor="start" font-weight="normal" fill="#000" >IFNAR<tspan dy="-4" font-size="7.5">−/−</tspan></text>
<line x1="506.30" y1="452.00" x2="506.30" y2="592.30" stroke="#000" stroke-width="2" stroke-linecap="butt"/>
<line x1="502.60" y1="592.30" x2="506.30" y2="592.30" stroke="#000" stroke-width="2" stroke-linecap="butt"/>
<text x="498.2" y="596.3" font-size="11" text-anchor="end" font-weight="normal" fill="#000" >0</text>
<line x1="502.60" y1="557.47" x2="506.30" y2="557.47" stroke="#000" stroke-width="2" stroke-linecap="butt"/>
<text x="498.2" y="561.4" font-size="11" text-anchor="end" font-weight="normal" fill="#000" >25</text>
<line x1="502.60" y1="522.65" x2="506.30" y2="522.65" stroke="#000" stroke-width="2" stroke-linecap="butt"/>
<text x="498.2" y="526.6" font-size="11" text-anchor="end" font-weight="normal" fill="#000" >50</text>
<line x1="502.60" y1="487.82" x2="506.30" y2="487.82" stroke="#000" stroke-width="2" stroke-linecap="butt"/>
<text x="498.2" y="491.8" font-size="11" text-anchor="end" font-weight="normal" fill="#000" >75</text>
<line x1="502.60" y1="453.00" x2="506.30" y2="453.00" stroke="#000" stroke-width="2" stroke-linecap="butt"/>
<text x="498.2" y="457.0" font-size="11" text-anchor="end" font-weight="normal" fill="#000" >100</text>
<line x1="505.30" y1="592.30" x2="645.00" y2="592.30" stroke="#000" stroke-width="2" stroke-linecap="butt"/>
<line x1="515.90" y1="592.30" x2="515.90" y2="596.40" stroke="#000" stroke-width="2" stroke-linecap="butt"/>
<text x="515.9" y="609.0" font-size="11" text-anchor="middle" font-weight="normal" fill="#000" >0</text>
<line x1="536.00" y1="592.30" x2="536.00" y2="596.40" stroke="#000" stroke-width="2" stroke-linecap="butt"/>
<text x="536.0" y="609.0" font-size="11" text-anchor="middle" font-weight="normal" fill="#000" >15</text>
<line x1="555.70" y1="592.30" x2="555.70" y2="596.40" stroke="#000" stroke-width="2" stroke-linecap="butt"/>
<text x="555.7" y="609.0" font-size="11" text-anchor="middle" font-weight="normal" fill="#000" >30</text>
<line x1="575.70" y1="592.30" x2="575.70" y2="596.40" stroke="#000" stroke-width="2" stroke-linecap="butt"/>
<text x="575.7" y="609.0" font-size="11" text-anchor="middle" font-weight="normal" fill="#000" >45</text>
<line x1="596.00" y1="592.30" x2="596.00" y2="596.40" stroke="#000" stroke-width="2" stroke-linecap="butt"/>
<text x="596.0" y="609.0" font-size="11" text-anchor="middle" font-weight="normal" fill="#000" >60</text>
<line x1="616.10" y1="592.30" x2="616.10" y2="596.40" stroke="#000" stroke-width="2" stroke-linecap="butt"/>
<text x="616.1" y="609.0" font-size="11" text-anchor="middle" font-weight="normal" fill="#000" >90</text>
<line x1="635.90" y1="592.30" x2="635.90" y2="596.40" stroke="#000" stroke-width="2" stroke-linecap="butt"/>
<text x="635.9" y="609.0" font-size="11" text-anchor="middle" font-weight="normal" fill="#000" >120</text>
<text x="575.7" y="624.8" font-size="11.7" text-anchor="middle" font-weight="normal" fill="#000" >Time (min)</text>
<text x="0" y="0" font-size="11.8" text-anchor="middle" fill="#000" transform="translate(457.7,524.8) rotate(-90)">Glucose level</text>
<text x="0" y="0" font-size="11.8" text-anchor="middle" fill="#000" transform="translate(470.3,523.3) rotate(-90)">(Mean % initial)</text>
<polyline points="515.90,453.20 536.00,489.90 555.70,533.10 575.70,540.80 596.00,561.30 616.10,548.60 635.90,523.80" stroke="#000" stroke-width="2.2" fill="none" stroke-linejoin="miter"/>
<polyline points="515.90,453.20 536.00,456.30 555.70,505.50 575.70,516.10 596.00,507.20 616.10,498.30 635.90,470.40" stroke="#000" stroke-width="2.2" fill="none" stroke-linejoin="miter"/>
<rect x="532.75" y="453.05" width="6.50" height="6.50" fill="#fff" stroke="#000" stroke-width="1.6"/>
<rect x="552.45" y="502.25" width="6.50" height="6.50" fill="#fff" stroke="#000" stroke-width="1.6"/>
<rect x="572.45" y="512.85" width="6.50" height="6.50" fill="#fff" stroke="#000" stroke-width="1.6"/>
<rect x="592.75" y="503.95" width="6.50" height="6.50" fill="#fff" stroke="#000" stroke-width="1.6"/>
<rect x="612.85" y="495.05" width="6.50" height="6.50" fill="#fff" stroke="#000" stroke-width="1.6"/>
<rect x="632.65" y="467.15" width="6.50" height="6.50" fill="#fff" stroke="#000" stroke-width="1.6"/>
<rect x="512.50" y="449.80" width="6.80" height="6.80" fill="#d882f9" stroke="#000" stroke-width="1.2"/>
<rect x="532.60" y="486.50" width="6.80" height="6.80" fill="#d882f9" stroke="#000" stroke-width="1.2"/>
<rect x="552.30" y="529.70" width="6.80" height="6.80" fill="#d882f9" stroke="#000" stroke-width="1.2"/>
<rect x="572.30" y="537.40" width="6.80" height="6.80" fill="#d882f9" stroke="#000" stroke-width="1.2"/>
<rect x="592.60" y="557.90" width="6.80" height="6.80" fill="#d882f9" stroke="#000" stroke-width="1.2"/>
<rect x="612.70" y="545.20" width="6.80" height="6.80" fill="#d882f9" stroke="#000" stroke-width="1.2"/>
<rect x="632.50" y="520.40" width="6.80" height="6.80" fill="#d882f9" stroke="#000" stroke-width="1.2"/>
<line x1="646.30" y1="466.60" x2="646.30" y2="524.60" stroke="#000" stroke-width="1.6" stroke-linecap="butt"/>
<polygon points="653.00,497.00 653.73,498.49 655.38,498.73 654.19,499.89 654.47,501.52 653.00,500.75 651.53,501.52 651.81,499.89 650.62,498.73 652.27,498.49" fill="#000" stroke="#000" stroke-width="0.35" stroke-linejoin="round"/>
<polygon points="658.60,497.00 659.33,498.49 660.98,498.73 659.79,499.89 660.07,501.52 658.60,500.75 657.13,501.52 657.41,499.89 656.22,498.73 657.87,498.49" fill="#000" stroke="#000" stroke-width="0.35" stroke-linejoin="round"/>
<polygon points="664.20,497.00 664.93,498.49 666.58,498.73 665.39,499.89 665.67,501.52 664.20,500.75 662.73,501.52 663.01,499.89 661.82,498.73 663.47,498.49" fill="#000" stroke="#000" stroke-width="0.35" stroke-linejoin="round"/>
<line x1="82.70" y1="708.30" x2="82.70" y2="833.60" stroke="#000" stroke-width="2" stroke-linecap="butt"/>
<line x1="76.10" y1="833.60" x2="82.70" y2="833.60" stroke="#000" stroke-width="2" stroke-linecap="butt"/>
<text x="72.5" y="838.3" font-size="13" text-anchor="end" font-weight="normal" fill="#000" >0</text>
<line x1="76.10" y1="808.74" x2="82.70" y2="808.74" stroke="#000" stroke-width="2" stroke-linecap="butt"/>
<text x="72.5" y="813.4" font-size="13" text-anchor="end" font-weight="normal" fill="#000" >100</text>
<line x1="76.10" y1="783.88" x2="82.70" y2="783.88" stroke="#000" stroke-width="2" stroke-linecap="butt"/>
<text x="72.5" y="788.6" font-size="13" text-anchor="end" font-weight="normal" fill="#000" >200</text>
<line x1="76.10" y1="759.02" x2="82.70" y2="759.02" stroke="#000" stroke-width="2" stroke-linecap="butt"/>
<text x="72.5" y="763.7" font-size="13" text-anchor="end" font-weight="normal" fill="#000" >300</text>
<line x1="76.10" y1="734.16" x2="82.70" y2="734.16" stroke="#000" stroke-width="2" stroke-linecap="butt"/>
<text x="72.5" y="738.8" font-size="13" text-anchor="end" font-weight="normal" fill="#000" >400</text>
<line x1="76.10" y1="709.30" x2="82.70" y2="709.30" stroke="#000" stroke-width="2" stroke-linecap="butt"/>
<text x="72.5" y="714.0" font-size="13" text-anchor="end" font-weight="normal" fill="#000" >500</text>
<line x1="81.70" y1="833.60" x2="165.60" y2="833.60" stroke="#000" stroke-width="2" stroke-linecap="butt"/>
<text x="0" y="0" font-size="14" text-anchor="middle" fill="#000" transform="translate(37.3,771.2) rotate(-90)">ALT (IU/l)</text>
<line x1="103.60" y1="726.00" x2="103.60" y2="743.00" stroke="#000" stroke-width="1.4" stroke-linecap="butt"/>
<line x1="103.60" y1="775.00" x2="103.60" y2="777.00" stroke="#000" stroke-width="1.4" stroke-linecap="butt"/>
<rect x="90.40" y="743.00" width="26.40" height="32.00" fill="#fff" stroke="#000" stroke-width="1.4"/>
<line x1="90.40" y1="764.60" x2="116.80" y2="764.60" stroke="#000" stroke-width="1.4" stroke-linecap="butt"/>
<line x1="96.20" y1="726.00" x2="111.00" y2="726.00" stroke="#000" stroke-width="1.4" stroke-linecap="butt"/>
<line x1="97.00" y1="777.00" x2="110.00" y2="777.00" stroke="#000" stroke-width="1.4" stroke-linecap="butt"/>
<rect x="100.45" y="723.05" width="5.90" height="5.90" fill="#cfcfcf" stroke="#000" stroke-width="1.5"/>
<rect x="100.45" y="745.45" width="5.90" height="5.90" fill="#cfcfcf" stroke="#000" stroke-width="1.5"/>
<rect x="100.45" y="755.65" width="5.90" height="5.90" fill="#cfcfcf" stroke="#000" stroke-width="1.5"/>
<rect x="94.05" y="767.45" width="5.90" height="5.90" fill="#cfcfcf" stroke="#000" stroke-width="1.5"/>
<rect x="107.05" y="771.65" width="5.90" height="5.90" fill="#cfcfcf" stroke="#000" stroke-width="1.5"/>
<rect x="94.05" y="776.05" width="5.90" height="5.90" fill="#cfcfcf" stroke="#000" stroke-width="1.5"/>
<line x1="144.80" y1="764.00" x2="144.80" y2="778.40" stroke="#000" stroke-width="1.4" stroke-linecap="butt"/>
<line x1="144.80" y1="800.00" x2="144.80" y2="819.60" stroke="#000" stroke-width="1.4" stroke-linecap="butt"/>
<rect x="131.60" y="778.40" width="26.40" height="21.60" fill="#d882f9" stroke="#000" stroke-width="1.4"/>
<line x1="131.60" y1="788.20" x2="158.00" y2="788.20" stroke="#000" stroke-width="1.4" stroke-linecap="butt"/>
<line x1="138.00" y1="764.00" x2="152.00" y2="764.00" stroke="#000" stroke-width="1.4" stroke-linecap="butt"/>
<line x1="138.00" y1="819.60" x2="152.00" y2="819.60" stroke="#000" stroke-width="1.4" stroke-linecap="butt"/>
<rect x="141.65" y="761.05" width="5.90" height="5.90" fill="#d882f9" stroke="#000" stroke-width="1.5"/>
<rect x="135.05" y="779.45" width="5.90" height="5.90" fill="#d882f9" stroke="#000" stroke-width="1.5"/>
<rect x="148.45" y="780.05" width="5.90" height="5.90" fill="#d882f9" stroke="#000" stroke-width="1.5"/>
<rect x="135.05" y="790.05" width="5.90" height="5.90" fill="#d882f9" stroke="#000" stroke-width="1.5"/>
<rect x="148.45" y="791.45" width="5.90" height="5.90" fill="#d882f9" stroke="#000" stroke-width="1.5"/>
<rect x="141.65" y="816.65" width="5.90" height="5.90" fill="#d882f9" stroke="#000" stroke-width="1.5"/>
<polygon points="145.40,742.90 146.28,744.69 148.25,744.97 146.83,746.36 147.16,748.33 145.40,747.40 143.64,748.33 143.97,746.36 142.55,744.97 144.52,744.69" fill="#000" stroke="#000" stroke-width="0.35" stroke-linejoin="round"/>
<rect x="331.20" y="682.40" width="23.60" height="23.90" fill="rgb(228,170,252)" />
<rect x="354.80" y="682.40" width="24.70" height="23.90" fill="rgb(243,221,253)" />
<rect x="331.20" y="706.00" width="23.60" height="23.90" fill="rgb(236,196,252)" />
<rect x="354.80" y="706.00" width="24.70" height="23.90" fill="rgb(249,237,253)" />
<rect x="331.20" y="729.60" width="23.60" height="23.90" fill="rgb(215,127,249)" />
<rect x="354.80" y="729.60" width="24.70" height="23.90" fill="rgb(238,206,253)" />
<rect x="331.20" y="753.20" width="23.60" height="23.90" fill="rgb(249,237,252)" />
<rect x="354.80" y="753.20" width="24.70" height="23.90" fill="rgb(248,235,253)" />
<rect x="331.20" y="776.80" width="23.60" height="23.90" fill="rgb(240,211,252)" />
<rect x="354.80" y="776.80" width="24.70" height="23.90" fill="rgb(248,236,253)" />
<rect x="331.20" y="800.40" width="23.60" height="23.90" fill="rgb(217,135,250)" />
<rect x="354.80" y="800.40" width="24.70" height="23.90" fill="rgb(234,193,252)" />
<text x="326.2" y="698.4" font-size="9.3" text-anchor="end" font-weight="normal" fill="#222" >CD45<tspan dy="-3.3" font-size="6.2">+</tspan></text>
<text x="326.2" y="722.0" font-size="9.3" text-anchor="end" font-weight="normal" fill="#222" >CD3<tspan dy="-3.3" font-size="6.2">+</tspan><tspan dy="3.3">CD4</tspan><tspan dy="-3.3" font-size="6.2">+</tspan></text>
<text x="326.2" y="745.6" font-size="9.3" text-anchor="end" font-weight="normal" fill="#222" >CD3<tspan dy="-3.3" font-size="6.2">+</tspan><tspan dy="3.3">CD8</tspan><tspan dy="-3.3" font-size="6.2">+</tspan></text>
<text x="326.2" y="769.2" font-size="9.3" text-anchor="end" font-weight="normal" fill="#222" >F4/80<tspan dy="-3.3" font-size="6.2">+</tspan><tspan dy="3.3">CD11b</tspan><tspan dy="-3.3" font-size="6.2">+</tspan></text>
<text x="326.2" y="792.8" font-size="9.3" text-anchor="end" font-weight="normal" fill="#222" >F4/80<tspan dy="-3.3" font-size="6.2">+</tspan><tspan dy="3.3">CD11b</tspan><tspan dy="-3.3" font-size="6.2">+</tspan><tspan dy="3.3">IL6</tspan><tspan dy="-3.3" font-size="6.2">+</tspan></text>
<text x="326.2" y="816.4" font-size="9.3" text-anchor="end" font-weight="normal" fill="#222" >F4/80<tspan dy="-3.3" font-size="6.2">+</tspan><tspan dy="3.3">CD11b</tspan><tspan dy="-3.3" font-size="6.2">+</tspan><tspan dy="3.3">TNFα</tspan><tspan dy="-3.3" font-size="6.2">+</tspan></text>
<polygon points="367.15,693.25 367.78,694.53 369.19,694.74 368.17,695.73 368.41,697.14 367.15,696.47 365.89,697.14 366.13,695.73 365.11,694.74 366.52,694.53" fill="#000" stroke="#000" stroke-width="0.35" stroke-linejoin="round"/>
<polygon points="367.15,716.85 367.78,718.13 369.19,718.34 368.17,719.33 368.41,720.74 367.15,720.07 365.89,720.74 366.13,719.33 365.11,718.34 366.52,718.13" fill="#000" stroke="#000" stroke-width="0.35" stroke-linejoin="round"/>
<polygon points="367.15,787.65 367.78,788.93 369.19,789.14 368.17,790.13 368.41,791.54 367.15,790.87 365.89,791.54 366.13,790.13 365.11,789.14 366.52,788.93" fill="#000" stroke="#000" stroke-width="0.35" stroke-linejoin="round"/>
<polygon points="367.15,811.25 367.78,812.53 369.19,812.74 368.17,813.73 368.41,815.14 367.15,814.47 365.89,815.14 366.13,813.73 365.11,812.74 366.52,812.53" fill="#000" stroke="#000" stroke-width="0.35" stroke-linejoin="round"/>
<text x="354.9" y="665.3" font-size="10" text-anchor="middle" font-weight="normal" fill="#222" >Liver</text>
<line x1="344.00" y1="666.90" x2="365.80" y2="666.90" stroke="#222" stroke-width="0.9" stroke-linecap="butt"/>
<text x="342.0" y="678.7" font-size="8.2" text-anchor="middle" font-weight="normal" fill="#222" >WT</text>
<text x="352.6" y="678.7" font-size="8.2" text-anchor="start" font-weight="normal" fill="#222" >IFNAR<tspan dy="-3" font-size="6">−/−</tspan></text>
<defs><linearGradient id="k1" x1="0" x2="1" y1="0" y2="0"><stop offset="0" stop-color="#fff"/><stop offset="1" stop-color="rgb(205,100,250)"/></linearGradient></defs>
<rect x="331.20" y="827.50" width="48.30" height="8.30" fill="url(#k1)" stroke="#000" stroke-width="1.2"/>
<line x1="350.04" y1="827.50" x2="350.04" y2="829.10" stroke="#000" stroke-width="0.8" stroke-linecap="butt"/>
<line x1="350.04" y1="834.20" x2="350.04" y2="835.80" stroke="#000" stroke-width="0.8" stroke-linecap="butt"/>
<line x1="369.36" y1="827.50" x2="369.36" y2="829.10" stroke="#000" stroke-width="0.8" stroke-linecap="butt"/>
<line x1="369.36" y1="834.20" x2="369.36" y2="835.80" stroke="#000" stroke-width="0.8" stroke-linecap="butt"/>
<text x="331.4" y="844.6" font-size="7.5" text-anchor="middle" font-weight="normal" fill="#222" >Min</text>
<text x="379.2" y="844.6" font-size="7.5" text-anchor="middle" font-weight="normal" fill="#222" >Max</text>
</svg></body></html>
